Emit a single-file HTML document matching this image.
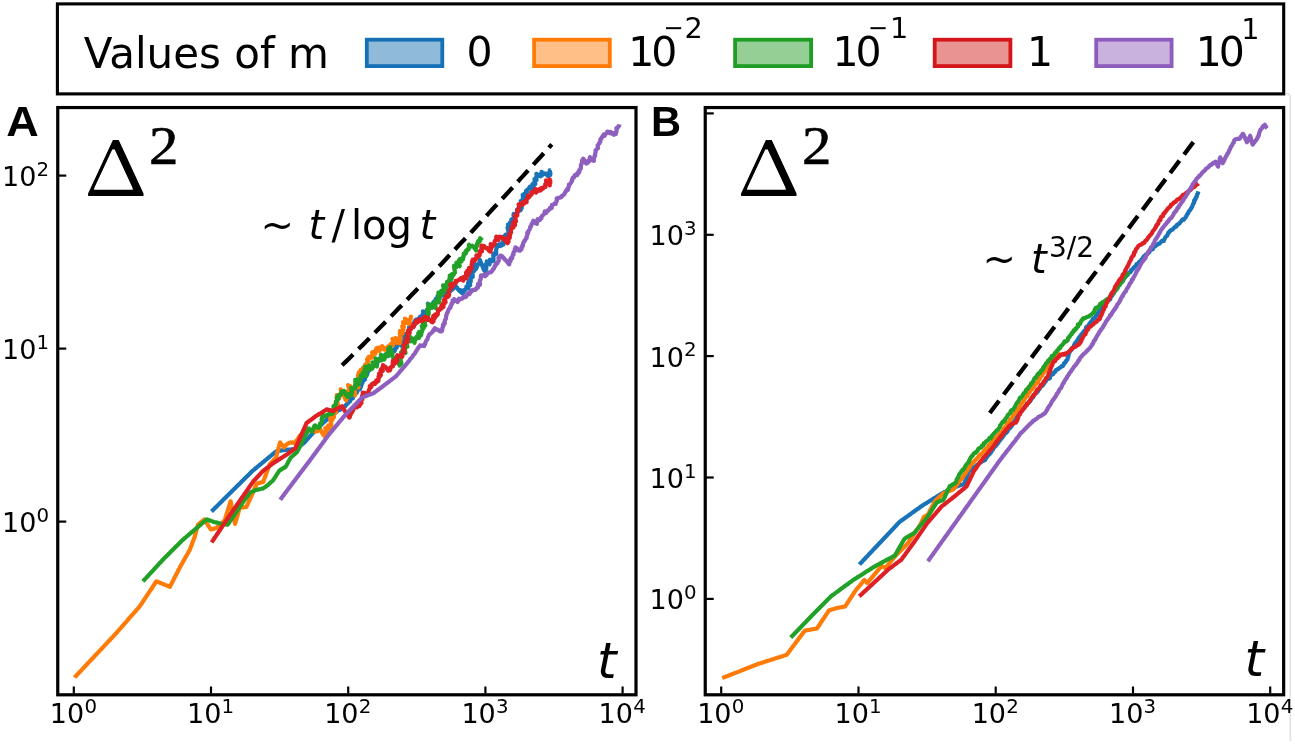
<!DOCTYPE html>
<html lang="en"><head><meta charset="utf-8"><title>Delta squared vs t</title>
<style>html,body{margin:0;padding:0;background:#fff;}svg{display:block;}text{font-family:"DejaVu Sans","Liberation Sans",sans-serif;fill:#000;}.it{font-style:italic;}.lab{font-family:"Liberation Sans","DejaVu Sans",sans-serif;font-weight:bold;}.ser{font-family:"Liberation Serif","DejaVu Serif",serif;}</style></head><body>
<svg width="1295" height="744" viewBox="0 0 1295 744">
<rect x="0" y="0" width="1295" height="744" fill="#fff"/>
<path d="M1286,93.3 Q1290.2,93.3 1290.2,98 L1290.2,741" fill="none" stroke="#dcdcdc" stroke-width="1.3"/>
<rect x="57.4" y="3.9" width="1226.3" height="90.0" fill="none" stroke="#000" stroke-width="3.1"/>
<text x="83.7" y="67.6" font-size="42">Values of m</text>
<rect x="366.8" y="39.7" width="75.5" height="26.4" fill="#1f77b4" fill-opacity="0.5" stroke="#1570b6" stroke-width="3.8"/>
<rect x="534.1" y="39.7" width="75.7" height="26.4" fill="#ff7f0e" fill-opacity="0.5" stroke="#ff7a06" stroke-width="3.8"/>
<rect x="735.1" y="39.7" width="76.0" height="26.4" fill="#2ca02c" fill-opacity="0.5" stroke="#1e9e25" stroke-width="3.8"/>
<rect x="934.7" y="39.7" width="75.7" height="26.4" fill="#d62728" fill-opacity="0.5" stroke="#d4161a" stroke-width="3.8"/>
<rect x="1096.2" y="39.7" width="75.4" height="26.4" fill="#9467bd" fill-opacity="0.5" stroke="#8d5cbc" stroke-width="3.8"/>
<text x="466.4" y="66.3" font-size="41" letter-spacing="0">0</text>
<text x="628.2" y="66.3" font-size="41" letter-spacing="-3.1">10</text>
<text x="663.3" y="36" font-size="24.3">−</text>
<text x="684.5" y="37.6" font-size="28.7">2</text>
<text x="832.6" y="66.3" font-size="41" letter-spacing="-3.1">10</text>
<text x="867.7" y="36" font-size="24.3">−</text>
<text x="889.9" y="37.6" font-size="28.7">1</text>
<text x="1027.0" y="66.3" font-size="41" letter-spacing="0">1</text>
<text x="1195.8" y="66.3" font-size="41" letter-spacing="-3.1">10</text>
<text x="1241.2" y="38.8" font-size="28.7">1</text>
<line x1="73.8" y1="693.5" x2="73.8" y2="686.5" stroke="#000" stroke-width="2.2"/>
<text x="49.8" y="723.0" font-size="27">10</text><text x="84.4" y="712.7" font-size="19.8">0</text>
<line x1="211.0" y1="693.5" x2="211.0" y2="686.5" stroke="#000" stroke-width="2.2"/>
<text x="187.0" y="723.0" font-size="27">10</text><text x="221.6" y="712.7" font-size="19.8">1</text>
<line x1="348.2" y1="693.5" x2="348.2" y2="686.5" stroke="#000" stroke-width="2.2"/>
<text x="324.2" y="723.0" font-size="27">10</text><text x="358.8" y="712.7" font-size="19.8">2</text>
<line x1="485.4" y1="693.5" x2="485.4" y2="686.5" stroke="#000" stroke-width="2.2"/>
<text x="461.4" y="723.0" font-size="27">10</text><text x="496.0" y="712.7" font-size="19.8">3</text>
<line x1="622.6" y1="693.5" x2="622.6" y2="686.5" stroke="#000" stroke-width="2.2"/>
<text x="598.6" y="723.0" font-size="27">10</text><text x="633.2" y="712.7" font-size="19.8">4</text>
<line x1="57.75" y1="175.6" x2="66.25" y2="175.6" stroke="#000" stroke-width="2.2"/>
<text x="2.0" y="186.1" font-size="27">10</text><text x="36.4" y="175.7" font-size="19.8">2</text>
<line x1="57.75" y1="348.6" x2="66.25" y2="348.6" stroke="#000" stroke-width="2.2"/>
<text x="2.0" y="359.1" font-size="27">10</text><text x="36.4" y="348.7" font-size="19.8">1</text>
<line x1="57.75" y1="521.6" x2="66.25" y2="521.6" stroke="#000" stroke-width="2.2"/>
<text x="2.0" y="532.1" font-size="27">10</text><text x="36.4" y="521.7" font-size="19.8">0</text>
<line x1="721.2" y1="693.5" x2="721.2" y2="686.5" stroke="#000" stroke-width="2.2"/>
<text x="697.2" y="723.0" font-size="27">10</text><text x="731.8" y="712.7" font-size="19.8">0</text>
<line x1="858.5" y1="693.5" x2="858.5" y2="686.5" stroke="#000" stroke-width="2.2"/>
<text x="834.5" y="723.0" font-size="27">10</text><text x="869.1" y="712.7" font-size="19.8">1</text>
<line x1="995.7" y1="693.5" x2="995.7" y2="686.5" stroke="#000" stroke-width="2.2"/>
<text x="971.7" y="723.0" font-size="27">10</text><text x="1006.3" y="712.7" font-size="19.8">2</text>
<line x1="1133.0" y1="693.5" x2="1133.0" y2="686.5" stroke="#000" stroke-width="2.2"/>
<text x="1109.0" y="723.0" font-size="27">10</text><text x="1143.6" y="712.7" font-size="19.8">3</text>
<line x1="1270.2" y1="693.5" x2="1270.2" y2="686.5" stroke="#000" stroke-width="2.2"/>
<text x="1246.2" y="723.0" font-size="27">10</text><text x="1280.8" y="712.7" font-size="19.8">4</text>
<line x1="705.25" y1="234.8" x2="713.75" y2="234.8" stroke="#000" stroke-width="2.2"/>
<text x="649.5" y="245.3" font-size="27">10</text><text x="683.9" y="234.9" font-size="19.8">3</text>
<line x1="705.25" y1="356.1" x2="713.75" y2="356.1" stroke="#000" stroke-width="2.2"/>
<text x="649.5" y="366.6" font-size="27">10</text><text x="683.9" y="356.2" font-size="19.8">2</text>
<line x1="705.25" y1="477.5" x2="713.75" y2="477.5" stroke="#000" stroke-width="2.2"/>
<text x="649.5" y="488.0" font-size="27">10</text><text x="683.9" y="477.6" font-size="19.8">1</text>
<line x1="705.25" y1="598.9" x2="713.75" y2="598.9" stroke="#000" stroke-width="2.2"/>
<text x="649.5" y="609.4" font-size="27">10</text><text x="683.9" y="599.0" font-size="19.8">0</text>
<line x1="705.25" y1="113.4" x2="713.75" y2="113.4" stroke="#000" stroke-width="2.2"/>
<path d="M211.5,511.5 L212.1,510.9 L212.8,510.2 L213.4,509.6 L214.1,509.0 L214.7,508.3 L215.3,507.7 L216.0,507.1 L216.6,506.4 L217.3,505.8 L217.9,505.2 L218.5,504.5 L219.2,503.9 L219.8,503.3 L220.4,502.6 L221.1,502.0 L221.7,501.4 L222.4,500.7 L223.0,500.1 L223.6,499.5 L224.3,498.8 L224.9,498.2 L225.6,497.6 L226.2,496.9 L226.8,496.3 L227.5,495.7 L228.1,495.0 L228.8,494.4 L229.4,493.8 L230.0,493.1 L230.7,492.5 L231.3,491.9 L231.9,491.2 L232.6,490.6 L233.2,490.0 L233.9,489.4 L234.5,488.7 L235.1,488.1 L235.8,487.5 L236.4,486.8 L237.1,486.2 L237.7,485.6 L238.3,484.9 L239.0,484.3 L239.6,483.7 L240.3,483.0 L240.9,482.4 L241.5,481.8 L242.2,481.1 L242.8,480.5 L243.5,479.9 L244.1,479.2 L244.7,478.6 L245.4,478.0 L246.0,477.3 L246.6,476.7 L247.3,476.1 L247.9,475.4 L248.6,474.8 L249.2,474.2 L249.8,473.5 L250.5,472.9 L251.1,472.3 L251.8,471.6 L252.4,471.0 L253.1,470.4 L253.8,469.9 L254.5,469.3 L255.2,468.7 L255.9,468.1 L256.5,467.6 L257.2,467.0 L257.9,466.4 L258.6,465.9 L259.3,465.3 L260.0,464.7 L260.7,464.1 L261.4,463.6 L262.1,463.0 L262.8,462.4 L263.5,461.9 L264.2,461.3 L264.8,460.7 L265.5,460.1 L266.2,459.6 L266.9,459.0 L267.6,458.4 L268.3,457.9 L269.0,457.3 L269.7,456.7 L270.4,456.1 L271.1,455.6 L271.8,455.0 L272.5,454.4 L273.1,453.9 L273.8,453.3 L274.5,452.7 L275.2,452.1 L275.9,451.6 L276.6,451.0 L277.5,450.9 L278.5,450.8 L279.4,450.7 L280.3,450.6 L281.3,450.4 L282.2,450.3 L283.1,450.2 L284.1,450.1 L285.0,450.0 L285.9,449.9 L286.8,449.8 L287.7,449.7 L288.6,449.6 L289.5,449.5 L290.5,449.5 L291.4,449.4 L292.3,449.3 L293.2,449.2 L294.1,449.1 L295.0,449.0 L295.8,448.5 L296.5,448.0 L297.2,447.5 L298.0,447.0 L298.8,446.5 L299.5,446.0 L300.2,445.5 L301.0,445.0 L301.8,444.5 L302.5,444.0 L303.2,443.5 L304.0,443.0 L304.6,442.3 L305.2,441.6 L305.8,440.9 L306.5,440.2 L307.1,439.5 L307.7,438.8 L308.3,438.2 L308.9,437.5 L309.5,436.8 L310.2,436.1 L310.8,435.4 L311.4,434.7 L312.0,434.0 L312.6,433.4 L313.2,432.8 L313.9,432.1 L314.5,431.5 L315.1,430.9 L315.8,430.2 L316.4,429.6 L317.0,429.0 L317.6,428.4 L318.2,427.8 L318.9,427.1 L319.5,426.5 L320.1,425.9 L320.8,425.2 L321.4,424.6 L322.0,424.0 L322.6,423.4 L323.3,422.8 L323.9,422.2 L324.6,421.6 L325.2,421.1 L325.9,420.5 L326.5,419.9 L327.2,419.3 L327.8,418.7 L328.5,418.1 L329.1,417.5 L329.8,416.9 L330.4,416.4 L331.1,415.8 L331.7,415.3 L332.4,414.6 L333.0,413.9 L333.8,413.5 L334.5,413.0 L335.3,412.5 L336.1,412.0 L336.9,411.7 L337.5,410.6 L338.3,410.3 L339.1,409.9 L340.0,409.9 L340.5,408.6 L341.4,408.3 L342.1,407.6 L342.9,407.2 L343.8,407.1 L344.6,406.7 L345.3,406.4 L345.6,405.1 L346.3,404.6 L347.0,404.3 L347.6,403.7 L347.9,402.5 L348.7,402.4 L349.0,401.0 L350.0,401.4 L350.4,400.2 L350.8,399.3 L351.5,398.8 L352.2,398.4 L352.9,398.3 L353.1,396.7 L353.5,395.7 L354.3,395.5 L354.5,394.1 L354.8,392.8 L355.9,393.4 L356.2,392.2 L357.1,392.3 L357.2,390.5 L357.2,388.4 L358.4,389.4 L359.0,389.0 L359.9,389.3 L360.3,388.1 L360.7,387.1 L361.1,386.5 L361.2,385.0 L361.7,384.4 L361.6,382.5 L362.4,382.9 L362.5,381.3 L362.9,380.6 L363.6,380.7 L364.1,380.2 L363.9,378.0 L365.1,379.2 L364.8,376.8 L365.5,376.7 L365.9,376.2 L366.1,374.8 L366.4,373.9 L367.2,374.3 L367.4,373.0 L367.8,371.9 L367.6,369.2 L368.4,369.1 L369.7,370.2 L370.1,369.0 L370.3,367.2 L370.9,366.6 L371.6,366.2 L372.6,366.6 L373.2,365.8 L374.0,365.7 L374.0,363.4 L375.1,364.2 L375.3,362.3 L375.9,361.6 L377.4,363.2 L377.6,361.3 L378.1,360.2 L378.8,359.5 L379.4,358.7 L380.9,360.2 L381.7,359.9 L382.2,358.7 L382.6,357.3 L383.7,357.6 L383.9,355.9 L384.8,355.7 L385.5,355.2 L386.1,354.2 L387.6,355.7 L388.6,355.8 L389.2,355.0 L388.3,350.1 L390.7,353.8 L391.2,352.7 L391.3,350.6 L392.2,350.3 L393.6,351.5 L394.4,351.2 L394.9,350.2 L395.1,348.5 L395.6,347.4 L396.6,347.8 L396.9,346.0 L397.0,344.0 L397.7,343.5 L398.6,343.5 L399.5,343.6 L401.2,345.6 L400.0,340.5 L401.2,341.4 L401.6,340.3 L402.4,340.0 L403.5,340.8 L404.1,340.2 L404.0,337.6 L404.2,336.0 L404.2,334.0 L405.3,334.8 L406.6,336.1 L406.4,333.8 L407.3,334.0 L407.9,333.5 L408.2,332.4 L409.0,332.5 L409.0,330.3 L409.0,328.3 L409.2,326.9 L410.7,328.8 L410.7,326.9 L411.1,326.0 L412.2,326.8 L412.0,324.1 L413.8,326.6 L414.1,325.1 L414.1,322.7 L414.5,321.5 L416.0,323.1 L415.6,319.8 L416.4,319.4 L417.4,319.7 L418.2,319.5 L418.8,318.7 L419.6,318.6 L419.9,317.0 L420.6,316.5 L422.0,317.8 L422.4,316.7 L422.5,314.5 L424.1,316.4 L423.0,311.3 L424.4,312.6 L425.5,313.1 L426.4,313.1 L426.6,311.3 L426.8,309.8 L427.9,310.2 L428.2,308.6 L429.0,308.7 L427.9,303.6 L429.9,306.4 L430.2,304.8 L431.6,306.3 L432.3,305.8 L432.9,305.1 L432.9,302.8 L433.8,302.9 L434.1,301.3 L434.9,301.2 L435.5,300.4 L435.8,298.8 L438.0,301.9 L438.4,300.5 L437.6,296.0 L439.6,298.7 L439.3,295.8 L440.5,296.3 L441.2,295.6 L441.9,295.1 L443.1,295.6 L443.6,294.6 L443.7,292.5 L445.1,293.6 L446.2,293.8 L447.7,295.4 L447.5,292.3 L447.6,290.2 L448.7,290.5 L450.1,291.5 L450.1,289.2 L450.8,288.5 L452.2,289.7 L452.8,288.7 L453.7,288.4 L454.0,286.8 L454.6,285.8 L455.5,285.8 L456.3,286.9 L456.9,287.4 L457.9,289.1 L458.7,290.1 L459.4,290.9 L460.0,291.4 L459.9,290.2 L460.3,290.1 L461.9,293.1 L462.4,293.2 L463.2,292.6 L463.3,290.4 L464.4,290.8 L465.1,289.8 L465.7,288.9 L466.6,288.6 L466.4,286.6 L467.4,287.6 L468.4,288.6 L467.8,285.5 L468.4,285.3 L468.1,282.9 L469.1,284.1 L470.2,285.3 L469.0,280.6 L469.5,280.3 L470.7,281.8 L470.7,280.0 L470.8,278.6 L469.9,274.7 L471.0,275.7 L472.0,276.7 L472.7,276.9 L472.7,275.1 L472.3,272.4 L472.5,271.0 L472.1,268.5 L472.7,268.3 L474.4,270.7 L474.5,268.9 L474.3,266.3 L476.1,268.7 L475.2,264.6 L477.0,267.1 L476.9,264.9 L477.7,264.8 L478.4,264.6 L478.7,263.4 L479.7,263.9 L479.7,261.7 L479.9,260.2 L480.0,260.4 L479.9,260.0 L480.5,261.5 L481.8,264.7 L482.3,265.8 L483.0,267.4 L484.1,270.1 L483.7,268.6 L483.8,268.8 L483.3,267.0 L484.1,268.8 L485.9,273.1 L485.8,270.8 L485.8,268.7 L486.4,268.3 L485.7,264.6 L486.5,264.6 L486.8,263.3 L486.8,261.3 L488.7,264.2 L489.5,264.4 L489.5,262.3 L490.2,262.1 L490.0,259.6 L491.1,260.6 L491.9,260.6 L492.9,261.1 L493.5,260.7 L493.5,258.6 L493.4,256.6 L493.2,254.7 L493.6,253.9 L494.6,254.8 L495.0,254.2 L495.1,252.7 L496.2,254.0 L496.2,252.2 L496.1,250.4 L496.3,249.1 L496.7,248.5 L496.5,246.4 L496.8,245.2 L497.8,246.2 L498.1,244.7 L498.9,244.4 L500.4,246.0 L500.5,244.0 L501.9,245.2 L502.0,243.2 L503.4,244.5 L503.7,242.9 L503.2,239.1 L504.8,241.7 L504.7,239.7 L504.0,236.2 L505.3,237.7 L505.8,237.4 L505.5,234.7 L506.0,234.5 L507.1,235.3 L508.0,236.0 L508.3,235.2 L508.7,234.5 L509.0,233.5 L507.5,227.8 L508.4,228.4 L509.2,229.1 L508.0,224.6 L509.7,227.7 L510.3,227.8 L509.7,224.8 L509.9,224.1 L509.9,222.5 L510.5,222.7 L511.0,222.1 L511.5,221.5 L511.4,219.4 L512.5,220.2 L512.7,218.8 L513.8,219.7 L514.0,218.4 L513.5,215.1 L513.7,213.9 L515.0,215.1 L515.3,214.0 L516.2,214.5 L517.1,214.5 L517.3,212.8 L516.9,209.6 L517.6,209.1 L519.1,210.8 L519.1,208.3 L520.7,210.2 L520.8,208.4 L521.7,208.2 L521.6,205.8 L522.0,205.6 L520.7,201.0 L522.0,203.0 L522.8,203.8 L522.3,201.2 L522.3,200.1 L522.8,200.2 L523.1,199.7 L522.8,197.7 L523.6,198.6 L522.7,194.9 L524.5,197.4 L524.0,194.0 L524.7,193.6 L526.4,195.8 L526.0,192.6 L526.1,190.6 L527.4,191.9 L527.5,190.3 L527.8,189.2 L528.5,189.0 L529.0,188.4 L529.4,187.4 L529.9,186.7 L531.9,189.6 L531.6,186.7 L532.9,187.8 L532.4,184.3 L533.8,185.8 L533.6,183.2 L534.4,183.3 L535.3,184.1 L535.1,182.0 L534.5,179.0 L535.3,179.6 L535.9,179.6 L536.6,180.0 L536.1,177.2 L536.5,177.0 L537.0,176.8 L536.4,173.8 L538.1,175.4 L538.8,174.8 L540.4,176.3 L541.3,175.9 L542.0,175.4 L541.6,171.9 L543.4,174.1 L544.2,173.8 L544.8,173.5 L545.7,174.3 L546.2,173.7 L547.6,175.9 L548.4,176.1 L548.9,175.4 L548.7,173.1 L550.2,175.0 L550.4,173.7 L549.8,170.3 L550.6,170.4" fill="none" stroke="#1873b8" stroke-width="4.2" stroke-linejoin="round" stroke-linecap="butt"/>
<path d="M74.5,677.5 L75.1,676.8 L75.7,676.2 L76.3,675.5 L77.0,674.9 L77.6,674.2 L78.2,673.6 L78.8,672.9 L79.4,672.3 L80.0,671.6 L80.7,671.0 L81.3,670.3 L81.9,669.7 L82.5,669.0 L83.1,668.4 L83.7,667.7 L84.3,667.1 L85.0,666.4 L85.6,665.7 L86.2,665.1 L86.8,664.4 L87.4,663.8 L88.0,663.1 L88.6,662.5 L89.3,661.8 L89.9,661.2 L90.5,660.5 L91.1,659.9 L91.7,659.2 L92.3,658.6 L93.0,657.9 L93.6,657.3 L94.2,656.6 L94.8,656.0 L95.4,655.3 L96.0,654.6 L96.6,654.0 L97.3,653.3 L97.9,652.7 L98.5,652.0 L99.1,651.4 L99.7,650.7 L100.3,650.1 L101.0,649.4 L101.6,648.8 L102.2,648.1 L102.8,647.5 L103.4,646.8 L104.0,646.2 L104.6,645.5 L105.3,644.8 L105.9,644.2 L106.5,643.5 L107.1,642.9 L107.7,642.2 L108.3,641.6 L108.9,640.9 L109.6,640.3 L110.2,639.6 L110.8,639.0 L111.4,638.3 L112.0,637.7 L112.6,637.0 L113.3,636.4 L113.9,635.7 L114.5,635.1 L115.1,634.4 L115.7,633.7 L116.3,633.0 L116.9,632.4 L117.5,631.7 L118.1,631.0 L118.7,630.3 L119.3,629.6 L119.9,629.0 L120.5,628.3 L121.1,627.6 L121.7,626.9 L122.3,626.2 L122.9,625.6 L123.5,624.9 L124.1,624.2 L124.7,623.5 L125.3,622.8 L125.9,622.2 L126.5,621.5 L127.1,620.8 L127.6,620.1 L128.2,619.4 L128.8,618.7 L129.4,618.1 L130.0,617.4 L130.6,616.7 L131.2,616.0 L131.8,615.3 L132.4,614.7 L133.0,614.0 L133.6,613.3 L134.2,612.6 L134.8,611.9 L135.4,611.3 L136.0,610.6 L136.6,609.9 L137.2,609.2 L137.8,608.5 L138.4,607.9 L139.0,607.2 L139.6,606.5 L140.1,605.8 L140.6,605.0 L141.1,604.3 L141.6,603.5 L142.1,602.8 L142.6,602.1 L143.1,601.3 L143.6,600.6 L144.0,599.8 L144.5,599.1 L145.0,598.3 L145.5,597.6 L146.0,596.9 L146.5,596.1 L147.0,595.4 L147.5,594.6 L148.0,593.9 L148.5,593.2 L149.0,592.4 L149.5,591.7 L150.0,590.9 L150.5,590.2 L151.0,589.5 L151.5,588.7 L152.0,588.0 L152.4,587.2 L152.9,586.5 L153.4,585.7 L153.9,585.0 L154.4,584.3 L154.9,583.5 L155.4,582.8 L155.9,582.0 L156.4,581.3 L157.2,581.6 L158.1,582.0 L158.9,582.3 L159.8,582.7 L160.6,583.0 L161.5,583.4 L162.3,583.7 L163.2,584.0 L164.0,584.4 L164.8,584.7 L165.7,585.1 L166.5,585.4 L167.4,585.8 L168.2,586.1 L169.1,586.5 L169.9,586.8 L170.3,586.0 L170.7,585.2 L171.1,584.4 L171.5,583.6 L172.0,582.8 L172.4,582.0 L172.8,581.2 L173.2,580.4 L173.6,579.6 L174.0,578.8 L174.4,578.0 L174.8,577.2 L175.2,576.4 L175.7,575.6 L176.1,574.8 L176.5,574.0 L176.9,573.2 L177.3,572.4 L177.7,571.6 L178.1,570.8 L178.5,570.0 L179.0,569.2 L179.4,568.4 L179.8,567.6 L180.2,566.8 L180.6,566.0 L181.1,565.2 L181.5,564.4 L182.0,563.6 L182.4,562.8 L182.9,562.0 L183.3,561.2 L183.8,560.4 L184.2,559.6 L184.7,558.8 L185.1,558.0 L185.6,557.2 L186.1,556.4 L186.5,555.6 L187.0,554.8 L187.4,554.0 L187.9,553.2 L188.3,552.4 L188.8,551.6 L189.2,550.8 L189.7,550.0 L190.0,549.2 L190.3,548.4 L190.6,547.5 L190.9,546.7 L191.3,545.9 L191.6,545.0 L191.9,544.2 L192.2,543.4 L192.5,542.6 L192.8,541.8 L193.1,540.9 L193.4,540.1 L193.8,539.3 L194.1,538.4 L194.4,537.6 L194.7,536.8 L194.9,535.9 L195.2,535.1 L195.4,534.2 L195.6,533.3 L195.9,532.5 L196.1,531.6 L196.3,530.8 L196.6,529.9 L196.8,529.0 L197.1,528.2 L197.3,527.3 L197.5,526.4 L197.8,525.6 L198.0,524.7 L198.7,524.1 L199.4,523.5 L200.1,522.9 L200.8,522.3 L201.6,521.8 L202.3,521.2 L203.0,520.6 L203.7,520.0 L204.4,519.4 L204.9,520.2 L205.4,521.0 L205.9,521.7 L206.4,522.5 L206.9,523.3 L207.4,524.1 L207.8,524.8 L208.3,525.6 L208.8,526.4 L209.3,527.2 L209.8,527.9 L210.3,528.7 L210.8,529.5 L211.6,529.3 L212.4,529.1 L213.2,528.9 L214.1,528.6 L214.9,528.4 L215.7,528.2 L216.5,528.0 L217.2,527.4 L217.8,526.8 L218.5,526.1 L219.2,525.5 L219.8,524.9 L220.5,524.3 L221.2,523.7 L221.8,523.1 L222.5,522.5 L223.2,521.8 L223.8,521.2 L224.5,520.6 L224.8,519.7 L225.1,518.8 L225.3,518.0 L225.6,517.1 L225.9,516.2 L226.2,515.3 L226.4,514.5 L226.7,513.6 L227.0,512.7 L227.3,511.8 L227.6,511.0 L227.8,510.1 L228.1,509.2 L228.4,508.3 L228.7,507.4 L228.9,506.6 L229.2,505.7 L229.5,504.8 L229.8,503.9 L230.0,503.1 L230.3,502.2 L230.6,501.3 L230.8,502.2 L230.9,503.0 L231.1,503.9 L231.3,504.8 L231.4,505.6 L231.6,506.5 L231.8,507.4 L232.0,508.3 L232.1,509.1 L232.3,510.0 L232.5,510.9 L232.6,511.7 L232.8,512.6 L233.0,513.5 L233.1,514.3 L233.3,515.2 L233.5,516.1 L233.6,516.9 L233.8,517.8 L234.0,518.7 L234.2,519.6 L234.3,520.4 L234.5,521.3 L234.7,522.2 L234.8,523.0 L235.0,523.9 L235.3,523.0 L235.5,522.2 L235.8,521.3 L236.0,520.5 L236.3,519.6 L236.5,518.8 L236.8,517.9 L237.0,517.1 L237.3,516.2 L237.5,515.4 L237.8,514.5 L238.0,513.7 L238.3,512.8 L238.5,512.0 L238.8,511.1 L239.0,510.3 L239.3,509.4 L239.5,508.6 L239.8,507.7 L240.7,507.6 L241.7,507.5 L242.6,507.4 L243.5,507.3 L244.4,507.2 L245.4,507.1 L246.3,507.0 L246.7,506.2 L247.1,505.4 L247.4,504.6 L247.8,503.7 L248.2,502.9 L248.6,502.1 L249.0,501.3 L249.3,500.5 L249.7,499.7 L250.1,498.9 L250.5,498.1 L250.9,497.2 L251.2,496.4 L251.6,495.6 L252.0,494.8 L252.3,494.0 L252.7,493.2 L253.0,492.4 L253.4,491.6 L253.7,490.8 L254.1,490.0 L254.4,489.1 L254.7,488.3 L255.1,487.5 L255.4,486.7 L255.8,485.9 L256.1,485.1 L256.5,484.3 L256.8,483.5 L257.7,483.3 L258.6,483.1 L259.5,482.9 L260.5,482.6 L261.4,482.4 L262.3,482.2 L263.2,482.0 L263.5,481.2 L263.8,480.3 L264.1,479.5 L264.4,478.6 L264.7,477.8 L265.1,476.9 L265.4,476.1 L265.7,475.2 L266.0,474.4 L266.3,473.5 L266.6,472.7 L266.9,471.8 L267.2,471.0 L267.5,470.1 L267.8,469.3 L268.2,468.4 L268.5,467.6 L268.8,466.7 L269.1,465.9 L269.4,465.0 L269.7,464.2 L270.3,463.6 L271.0,462.9 L271.6,462.2 L272.2,461.6 L272.9,460.9 L273.5,460.3 L274.1,459.6 L274.7,459.0 L275.4,458.3 L276.0,457.7 L276.2,456.8 L276.4,456.0 L276.7,455.1 L276.9,454.3 L277.1,453.4 L277.3,452.6 L277.6,451.8 L277.8,450.9 L278.0,450.0 L278.2,449.2 L278.4,448.3 L278.7,447.5 L278.9,446.6 L279.1,445.8 L279.3,444.9 L279.6,444.1 L279.8,443.2 L280.0,442.4 L280.6,443.1 L281.1,443.8 L281.7,444.5 L282.3,445.2 L282.9,445.9 L283.4,446.6 L284.0,447.3 L284.6,446.6 L285.2,446.0 L285.8,445.3 L286.4,444.6 L287.0,444.1 L287.9,443.6 L288.7,443.1 L289.6,442.7 L290.5,442.4 L291.4,442.7 L292.1,442.7 L292.7,442.4 L293.7,443.0 L294.6,443.5 L295.3,443.2 L295.7,442.0 L296.2,441.1 L296.6,440.2 L297.3,439.8 L298.1,439.6 L298.3,437.9 L298.9,437.4 L299.3,436.3 L299.8,435.6 L300.6,435.2 L301.3,435.0 L301.7,433.8 L302.4,433.3 L303.3,433.6 L303.9,432.8 L304.5,432.2 L305.1,431.5 L305.5,430.5 L306.3,430.2 L306.9,429.7 L307.4,428.8 L308.5,429.7 L309.1,429.5 L310.1,430.4 L310.7,430.2 L311.6,430.9 L312.0,430.3 L312.8,430.5 L313.5,429.8 L315.1,431.6 L316.0,431.4 L316.8,431.0 L317.8,431.2 L318.2,429.8 L319.4,430.3 L320.1,429.8 L320.0,429.0 L321.1,431.0 L321.5,431.4 L323.0,434.5 L322.8,433.3 L323.2,433.8 L324.5,436.3 L324.7,436.3 L324.6,435.3 L325.4,435.9 L325.3,434.2 L326.7,436.0 L325.8,432.4 L326.0,431.4 L325.3,428.0 L326.3,429.2 L327.9,431.8 L327.5,429.2 L327.2,427.0 L328.0,427.4 L328.0,426.0 L328.3,425.4 L330.1,427.8 L330.6,427.1 L330.9,425.8 L331.4,425.0 L330.5,420.8 L330.2,417.9 L331.9,420.3 L332.5,419.6 L332.8,418.4 L333.1,417.3 L333.8,417.5 L334.0,416.6 L334.0,415.3 L334.2,414.6 L334.1,412.8 L334.1,411.5 L335.2,413.0 L334.7,410.3 L336.0,412.2 L335.6,410.0 L335.4,408.0 L336.1,408.4 L335.4,405.4 L335.6,404.5 L335.7,403.4 L336.1,403.0 L336.7,403.2 L337.8,404.6 L337.4,401.9 L336.7,398.3 L337.0,397.3 L336.8,395.0 L338.5,397.8 L339.3,397.9 L339.4,396.5 L339.7,395.6 L340.2,395.0 L340.5,394.1 L341.0,393.6 L341.2,392.2 L340.7,389.3 L342.2,392.9 L343.1,394.9 L341.7,391.0 L342.7,393.2 L342.6,392.7 L344.0,396.1 L344.1,396.1 L345.6,399.7 L346.1,400.5 L345.4,398.6 L345.6,398.8 L345.9,397.7 L347.0,398.8 L346.4,395.8 L347.5,396.9 L346.7,393.3 L348.5,396.2 L348.8,395.2 L348.0,391.4 L348.3,390.7 L349.3,391.5 L349.8,391.3 L348.1,385.1 L350.1,388.6 L351.6,390.9 L350.9,387.3 L350.3,386.1 L352.2,391.0 L352.1,391.0 L352.3,391.6 L352.8,393.2 L351.9,391.0 L352.3,392.3 L352.2,392.4 L352.4,393.1 L353.2,393.7 L353.1,391.8 L355.0,395.4 L354.9,393.5 L355.2,393.0 L353.8,387.8 L354.7,388.6 L355.1,388.2 L355.6,387.9 L356.0,387.7 L355.5,384.8 L355.5,383.3 L356.9,385.6 L358.3,387.6 L358.6,387.0 L357.3,382.1 L356.9,379.5 L357.6,380.0 L358.2,379.9 L359.3,381.4 L358.4,377.5 L358.0,375.2 L359.4,377.1 L358.6,373.7 L358.9,372.3 L360.4,373.9 L360.6,372.5 L360.5,370.1 L361.5,370.5 L362.1,369.8 L362.8,369.4 L362.9,367.9 L364.3,369.3 L364.3,367.3 L364.5,365.9 L366.1,368.0 L365.5,364.3 L366.9,366.0 L367.5,365.4 L367.2,363.1 L367.8,362.9 L367.0,359.3 L368.3,360.9 L368.0,358.4 L368.3,357.5 L369.4,358.7 L369.2,356.5 L370.0,357.0 L370.8,357.0 L371.8,357.5 L371.9,355.9 L372.8,356.2 L372.1,352.5 L372.7,351.9 L373.9,353.0 L375.3,353.8 L375.8,352.4 L375.9,350.1 L376.3,348.4 L377.2,347.9 L379.3,351.0 L378.9,347.6 L380.0,347.8 L381.3,349.0 L382.1,348.4 L382.1,346.0 L384.5,349.7 L384.4,348.0 L385.1,348.2 L386.2,349.6 L386.3,348.4 L387.6,350.3 L388.0,349.7 L387.9,347.4 L388.1,346.3 L389.5,347.7 L389.9,347.0 L390.2,345.8 L390.4,344.4 L390.9,343.9 L392.1,345.1 L392.9,345.2 L392.5,342.3 L393.2,342.0 L392.5,338.8 L393.5,339.7 L394.6,340.9 L395.2,341.1 L396.8,343.0 L395.5,338.0 L397.4,340.8 L398.2,341.1 L399.8,343.2 L398.6,338.3 L399.4,338.3 L400.6,339.5 L400.8,338.2 L399.8,333.9 L400.2,333.4 L399.9,331.2 L400.9,332.2 L401.7,332.7 L402.6,333.3 L402.4,331.3 L402.8,330.8 L403.2,330.3 L402.2,326.3 L403.3,327.3 L403.9,327.4 L403.4,324.7 L403.0,322.1 L403.9,322.8 L404.3,322.3 L405.6,323.0 L405.0,318.7 L406.6,320.0 L409.3,324.2 L409.8,323.4 L409.6,320.3 L410.0,319.1 L410.7,318.4 L410.9,316.7 L412.2,317.7" fill="none" stroke="#ff7b08" stroke-width="4.2" stroke-linejoin="round" stroke-linecap="butt"/>
<path d="M143.0,581.3 L143.6,580.6 L144.2,580.0 L144.8,579.3 L145.4,578.6 L146.1,578.0 L146.7,577.3 L147.3,576.7 L147.9,576.0 L148.5,575.3 L149.1,574.7 L149.7,574.0 L150.3,573.3 L151.0,572.7 L151.6,572.0 L152.2,571.3 L152.8,570.7 L153.4,570.0 L154.0,569.4 L154.6,568.7 L155.2,568.0 L155.9,567.4 L156.5,566.7 L157.1,566.0 L157.7,565.4 L158.3,564.7 L158.9,564.0 L159.5,563.4 L160.1,562.7 L160.8,562.1 L161.4,561.4 L162.0,560.7 L162.6,560.1 L163.2,559.4 L163.8,558.8 L164.5,558.1 L165.1,557.5 L165.8,556.8 L166.4,556.2 L167.1,555.5 L167.7,554.9 L168.4,554.2 L169.0,553.6 L169.7,552.9 L170.3,552.3 L171.0,551.6 L171.6,551.0 L172.3,550.3 L172.9,549.7 L173.5,549.1 L174.2,548.4 L174.8,547.8 L175.5,547.1 L176.1,546.5 L176.8,545.8 L177.4,545.2 L178.1,544.5 L178.7,543.9 L179.4,543.2 L180.0,542.6 L180.7,541.9 L181.3,541.3 L182.0,540.6 L182.6,540.0 L183.3,539.4 L184.0,538.8 L184.7,538.2 L185.4,537.6 L186.1,537.1 L186.7,536.5 L187.4,535.9 L188.1,535.3 L188.8,534.7 L189.5,534.1 L190.2,533.5 L190.9,532.9 L191.6,532.3 L192.3,531.8 L193.0,531.2 L193.7,530.6 L194.4,530.0 L195.0,529.4 L195.7,528.8 L196.4,528.2 L197.1,527.6 L197.8,527.1 L198.5,526.5 L199.2,525.9 L199.9,525.3 L200.6,524.7 L201.3,524.1 L202.0,523.5 L202.7,522.9 L203.3,522.3 L204.0,521.8 L204.7,521.2 L205.4,520.6 L206.1,520.0 L206.8,519.4 L207.6,519.7 L208.4,520.0 L209.2,520.3 L210.0,520.6 L210.8,520.8 L211.6,521.1 L212.4,521.4 L213.2,521.7 L214.0,522.0 L214.9,522.2 L215.8,522.4 L216.7,522.6 L217.6,522.8 L218.4,523.1 L219.3,523.3 L220.2,523.5 L221.1,523.7 L222.0,523.9 L222.9,524.0 L223.9,524.2 L224.8,524.3 L225.8,524.4 L226.8,524.6 L227.7,524.7 L228.2,523.9 L228.7,523.2 L229.3,522.4 L229.8,521.6 L230.3,520.9 L230.8,520.1 L231.3,519.4 L231.9,518.6 L232.4,517.8 L232.9,517.1 L233.4,516.3 L234.0,515.5 L234.5,514.8 L235.0,514.0 L235.5,513.2 L236.0,512.5 L236.5,511.8 L237.0,511.0 L237.5,510.2 L238.0,509.5 L238.5,508.8 L239.0,508.0 L239.5,507.2 L240.0,506.5 L240.5,505.8 L241.0,505.0 L241.5,504.2 L242.0,503.5 L242.5,502.8 L243.0,502.0 L243.6,501.3 L244.1,500.5 L244.7,499.8 L245.2,499.0 L245.8,498.3 L246.4,497.6 L246.9,496.8 L247.5,496.1 L248.1,495.4 L248.6,494.6 L249.2,493.9 L249.7,493.1 L250.3,492.4 L251.1,492.1 L251.9,491.7 L252.7,491.4 L253.6,491.0 L254.4,490.7 L255.2,490.3 L256.0,490.0 L256.9,489.8 L257.8,489.6 L258.7,489.4 L259.6,489.2 L260.5,489.0 L261.4,488.8 L262.3,488.6 L263.2,488.4 L263.9,487.9 L264.6,487.4 L265.3,486.9 L265.9,486.5 L266.6,486.0 L267.3,485.5 L268.0,485.0 L268.6,484.4 L269.2,483.8 L269.9,483.2 L270.5,482.6 L271.1,482.1 L271.8,481.5 L272.4,480.9 L273.0,480.3 L273.5,479.6 L274.0,478.8 L274.5,478.1 L275.0,477.3 L275.5,476.6 L276.0,475.8 L276.4,475.1 L276.9,474.3 L277.4,473.6 L277.9,472.8 L278.4,472.1 L278.9,471.3 L279.4,470.6 L280.2,470.1 L281.0,469.6 L281.8,469.1 L282.6,468.6 L283.4,468.1 L284.2,467.6 L285.0,467.1 L285.8,466.6 L286.2,465.8 L286.7,465.0 L287.1,464.2 L287.5,463.4 L288.0,462.6 L288.4,461.7 L288.9,460.9 L289.3,460.1 L289.7,459.3 L290.2,458.5 L290.6,457.7 L291.2,457.1 L291.9,456.6 L292.5,456.0 L293.2,455.4 L293.8,454.9 L294.4,454.3 L295.1,453.7 L295.7,453.1 L296.4,452.6 L297.0,452.0 L297.4,451.2 L297.9,450.4 L298.3,449.6 L298.8,448.8 L299.2,448.0 L299.7,447.2 L300.1,446.4 L300.6,445.6 L301.0,444.8 L301.4,444.0 L301.8,443.3 L302.1,442.4 L302.5,441.7 L302.8,440.9 L303.2,440.0 L303.6,439.3 L303.9,438.3 L304.3,437.7 L304.6,436.7 L305.0,435.9 L305.5,435.2 L305.9,434.5 L306.4,433.8 L306.9,433.0 L307.2,431.9 L307.6,430.9 L308.1,430.4 L308.6,429.6 L308.9,428.5 L309.7,429.6 L310.4,430.1 L310.9,430.4 L311.7,431.4 L312.1,431.6 L312.5,430.8 L312.9,430.4 L313.0,429.0 L313.5,428.7 L313.6,427.4 L314.2,427.3 L314.3,426.1 L314.7,425.5 L315.3,425.4 L316.2,426.2 L317.2,427.4 L318.0,427.8 L318.4,427.1 L319.1,427.5 L319.5,426.9 L319.6,425.5 L320.3,425.5 L320.1,423.5 L320.6,423.0 L321.2,422.9 L321.6,422.4 L321.9,421.6 L321.7,419.4 L321.8,417.9 L322.5,418.2 L322.5,416.5 L323.1,416.4 L323.2,414.9 L324.6,416.1 L325.6,415.9 L326.4,415.5 L327.1,414.9 L328.0,414.5 L328.8,414.0 L329.9,414.2 L330.8,413.9 L331.8,413.8 L331.9,412.3 L332.9,413.4 L332.9,411.5 L333.6,411.5 L334.0,410.8 L333.6,408.0 L333.5,406.1 L334.8,407.8 L334.8,405.9 L335.3,405.3 L335.5,404.3 L336.0,403.8 L335.9,401.7 L336.5,401.7 L336.8,400.7 L337.3,400.3 L336.8,397.3 L338.2,399.2 L338.6,398.5 L338.1,395.5 L338.7,395.3 L339.4,395.4 L340.0,395.5 L340.2,394.1 L341.1,394.7 L341.4,393.2 L341.7,391.5 L342.5,391.2 L344.0,392.6 L344.3,391.0 L345.3,393.3 L345.9,394.7 L346.2,395.1 L346.9,396.3 L346.8,395.7 L347.2,396.5 L347.3,396.5 L347.7,397.1 L347.6,396.7 L348.4,396.9 L348.5,395.6 L348.6,394.2 L349.7,395.4 L350.3,395.4 L350.3,393.7 L351.4,395.0 L351.7,394.1 L352.0,393.4 L351.5,390.3 L351.1,387.8 L352.4,389.6 L352.8,388.9 L353.6,388.9 L354.1,387.9 L355.1,388.4 L354.9,385.7 L355.9,386.0 L355.6,383.2 L355.2,379.9 L356.7,381.6 L358.6,384.4 L357.6,379.4 L359.5,382.2 L359.1,379.3 L359.6,378.6 L360.4,378.5 L361.0,378.1 L360.7,375.5 L361.7,376.1 L362.5,376.1 L363.3,376.1 L362.8,372.9 L364.5,375.3 L365.5,375.8 L366.4,376.0 L364.6,369.4 L365.5,369.8 L365.2,366.5 L367.3,369.3 L368.5,369.9 L368.4,367.1 L368.8,365.6 L370.7,367.9 L372.1,368.9 L372.2,366.6 L373.3,366.8 L372.4,362.4 L373.7,363.9 L374.9,365.0 L375.6,364.6 L377.0,366.3 L376.0,361.6 L375.5,358.3 L377.5,361.4 L377.6,359.7 L378.6,360.2 L379.5,360.4 L380.0,359.7 L381.0,360.3 L381.9,360.0 L380.8,354.7 L382.2,356.0 L384.5,359.2 L384.0,355.7 L385.5,356.9 L385.8,355.1 L386.3,353.9 L387.9,356.1 L388.3,355.1 L388.0,352.1 L389.1,352.7 L388.3,348.6 L388.9,348.1 L390.4,350.0 L390.6,348.3 L390.1,347.2 L391.1,350.2 L391.4,351.3 L392.3,353.7 L392.4,354.4 L391.8,353.2 L391.8,353.4 L392.2,354.7 L392.4,355.5 L393.7,359.1 L394.2,360.7 L394.7,361.2 L394.7,360.2 L394.9,359.5 L396.1,361.7 L396.1,360.7 L397.0,361.9 L396.5,359.6 L397.6,361.7 L399.6,365.6 L398.9,363.0 L398.6,360.7 L399.6,361.7 L401.1,364.2 L401.5,363.6 L400.6,359.9 L400.6,358.3 L401.0,357.8 L400.8,355.7 L401.5,356.2 L401.7,355.0 L401.1,352.2 L401.8,352.4 L402.3,352.3 L402.4,350.6 L402.6,349.2 L404.2,351.5 L405.5,352.9 L404.7,349.0 L404.7,347.4 L405.7,347.9 L405.7,346.1 L405.7,344.2 L407.4,346.7 L406.5,342.5 L406.8,341.6 L407.3,340.8 L407.6,339.6 L408.4,339.8 L409.4,340.5 L410.5,341.3 L410.6,339.6 L410.8,338.9 L410.5,337.1 L411.8,339.2 L412.0,338.6 L413.1,340.3 L414.5,342.8 L414.7,341.3 L415.0,339.9 L415.2,338.2 L416.2,338.6 L416.9,338.4 L416.9,336.2 L417.7,336.0 L419.2,337.7 L418.2,333.2 L419.0,333.7 L419.1,331.9 L421.1,335.3 L421.3,333.8 L421.6,332.7 L421.9,331.7 L422.2,330.6 L422.6,329.8 L421.8,325.9 L423.1,327.5 L423.9,327.7 L423.2,323.8 L424.7,326.0 L425.3,325.6 L424.3,321.3 L425.0,321.4 L425.4,321.1 L425.6,320.0 L426.4,320.5 L425.7,317.3 L426.4,317.7 L427.1,317.8 L427.7,317.9 L427.6,316.2 L427.6,314.7 L428.4,315.2 L427.1,310.3 L428.8,313.4 L428.6,311.3 L428.2,308.7 L428.8,308.8 L428.3,305.9 L428.2,304.3 L429.5,306.1 L430.2,305.6 L431.9,307.8 L431.9,305.3 L432.3,304.0 L433.2,304.0 L435.7,308.2 L435.4,305.6 L435.3,303.4 L435.4,301.7 L435.7,300.6 L436.7,301.3 L437.6,301.8 L438.6,302.4 L439.1,301.9 L439.0,299.8 L438.8,297.3 L438.9,295.8 L438.4,292.6 L439.5,293.4 L440.9,295.3 L441.1,293.8 L441.9,294.1 L441.3,290.7 L443.0,293.1 L443.3,292.0 L443.5,290.7 L444.2,290.4 L443.1,285.4 L444.3,286.5 L444.7,285.5 L446.8,289.0 L446.4,285.8 L446.5,284.0 L447.7,285.2 L447.1,281.7 L449.0,284.5 L448.5,281.0 L449.2,280.8 L449.3,278.8 L450.8,280.6 L449.7,275.6 L451.7,278.7 L451.6,276.3 L452.5,276.6 L452.1,274.0 L453.1,275.1 L453.5,274.5 L454.0,274.3 L454.1,273.2 L454.5,272.7 L455.0,272.6 L454.5,269.6 L454.1,267.0 L454.1,265.6 L455.5,267.8 L455.4,265.9 L456.4,267.1 L456.6,265.2 L456.5,262.6 L458.2,264.7 L459.7,266.3 L459.2,262.6 L459.1,260.2 L459.7,259.3 L461.4,261.4 L461.4,258.9 L462.0,258.2 L463.1,259.1 L463.2,257.6 L463.6,256.8 L463.6,254.9 L463.8,253.7 L464.7,254.2 L465.2,253.6 L465.9,253.5 L465.7,251.1 L466.5,251.3 L467.0,250.9 L467.2,249.6 L467.9,249.4 L468.6,249.5 L468.6,247.5 L468.8,246.3 L469.0,244.7 L470.5,246.6 L471.2,246.5 L471.9,246.3 L472.4,245.6 L474.0,247.3 L476.2,250.6 L475.9,247.5 L476.2,246.1 L477.1,246.1 L477.0,243.8 L477.8,243.8 L477.8,242.0 L478.2,241.1 L479.2,241.8 L479.8,241.3 L480.1,240.1 L480.1,238.2 L481.2,238.9 L481.4,237.5" fill="none" stroke="#22a128" stroke-width="4.2" stroke-linejoin="round" stroke-linecap="butt"/>
<path d="M211.6,542.4 L212.1,541.7 L212.6,540.9 L213.1,540.2 L213.6,539.4 L214.1,538.7 L214.6,538.0 L215.1,537.2 L215.6,536.5 L216.1,535.7 L216.6,535.0 L217.1,534.2 L217.6,533.5 L218.1,532.8 L218.6,532.0 L219.1,531.3 L219.6,530.5 L220.1,529.8 L220.6,529.1 L221.1,528.3 L221.6,527.6 L222.0,526.8 L222.5,526.1 L223.0,525.3 L223.5,524.6 L224.0,523.9 L224.5,523.1 L225.0,522.4 L225.5,521.6 L226.0,520.9 L226.5,520.2 L227.0,519.4 L227.5,518.7 L228.0,517.9 L228.5,517.2 L229.0,516.4 L229.5,515.7 L230.0,515.0 L230.5,514.2 L231.0,513.5 L231.5,512.7 L232.0,512.0 L232.5,511.3 L233.0,510.5 L233.5,509.8 L234.0,509.1 L234.6,508.3 L235.1,507.6 L235.6,506.9 L236.1,506.1 L236.6,505.4 L237.1,504.6 L237.6,503.9 L238.1,503.2 L238.7,502.4 L239.2,501.7 L239.7,501.0 L240.2,500.2 L240.7,499.5 L241.2,498.8 L241.7,498.0 L242.2,497.3 L242.8,496.6 L243.3,495.8 L243.8,495.1 L244.3,494.3 L244.8,493.6 L245.3,492.9 L245.8,492.1 L246.3,491.4 L246.8,490.7 L247.4,489.9 L247.9,489.2 L248.4,488.5 L248.9,487.7 L249.4,487.0 L249.9,486.2 L250.4,485.5 L250.9,484.8 L251.5,484.0 L252.0,483.3 L252.5,482.6 L253.0,481.8 L253.5,481.1 L254.1,480.4 L254.8,479.8 L255.4,479.1 L256.0,478.4 L256.7,477.7 L257.3,477.1 L257.9,476.4 L258.6,475.7 L259.2,475.0 L259.8,474.4 L260.5,473.7 L261.1,473.0 L261.7,472.3 L262.4,471.7 L263.0,471.0 L263.7,470.5 L264.4,469.9 L265.1,469.4 L265.9,468.8 L266.6,468.3 L267.3,467.7 L268.0,467.2 L268.7,466.7 L269.4,466.1 L270.1,465.6 L270.9,465.0 L271.6,464.5 L272.3,463.9 L273.0,463.4 L273.8,462.9 L274.5,462.4 L275.3,461.9 L276.0,461.4 L276.8,460.9 L277.6,460.4 L278.3,459.9 L279.1,459.4 L279.9,458.9 L280.6,458.4 L281.4,458.0 L282.1,457.5 L282.9,457.0 L283.7,456.5 L284.4,456.0 L285.2,455.5 L286.0,455.0 L286.7,454.5 L287.5,454.0 L288.2,453.5 L289.0,453.0 L289.7,452.4 L290.4,451.9 L291.2,451.3 L291.9,450.8 L292.6,450.2 L293.3,449.7 L294.1,449.1 L294.8,448.6 L295.5,448.0 L295.9,447.2 L296.2,446.3 L296.6,445.5 L297.0,444.7 L297.4,443.8 L297.8,443.0 L298.1,442.2 L298.5,441.3 L298.9,440.5 L299.2,439.7 L299.6,438.8 L300.0,438.0 L300.4,437.2 L300.7,436.3 L301.1,435.5 L301.5,434.7 L301.8,433.8 L302.2,433.0 L302.6,432.2 L302.9,431.3 L303.3,430.5 L303.7,429.7 L304.0,428.8 L304.4,428.0 L304.8,427.2 L305.1,426.3 L305.5,425.5 L305.9,424.7 L306.2,423.8 L306.6,423.0 L307.3,422.5 L308.0,421.9 L308.8,421.4 L309.5,420.8 L310.2,420.3 L310.9,419.8 L311.7,419.2 L312.4,418.7 L313.1,418.2 L313.8,417.6 L314.6,417.1 L315.3,416.5 L316.0,416.0 L316.8,415.5 L317.5,415.1 L318.3,414.6 L319.1,414.1 L319.9,413.6 L320.6,413.2 L321.4,412.7 L322.2,412.2 L322.9,411.8 L323.7,411.3 L324.5,410.8 L325.3,410.3 L326.0,409.9 L326.8,409.4 L327.7,409.6 L328.6,409.9 L329.5,410.1 L330.5,410.3 L331.4,410.6 L332.3,410.8 L333.2,411.0 L334.0,410.5 L334.8,410.0 L335.6,409.6 L336.4,409.2 L337.2,408.6 L338.0,408.3 L338.9,408.0 L339.6,407.5 L340.4,406.9 L341.3,406.7 L342.1,406.2 L342.6,407.1 L342.9,407.5 L343.2,408.0 L343.9,409.4 L344.4,410.2 L344.8,410.9 L345.3,411.9 L345.8,412.4 L346.2,413.0 L347.0,414.4 L347.2,414.2 L347.9,415.5 L348.5,416.4 L349.1,417.3 L349.5,417.6 L349.9,416.8 L350.1,415.5 L350.6,414.9 L350.7,413.4 L351.3,413.0 L351.8,412.5 L352.2,411.7 L352.5,410.7 L353.2,410.5 L353.2,408.8 L353.8,408.5 L354.1,407.5 L355.0,407.3 L355.8,406.9 L356.9,407.4 L357.3,405.8 L358.4,406.3 L359.3,406.1 L359.8,405.0 L360.5,404.2 L360.5,402.9 L360.7,402.2 L361.5,402.9 L361.0,400.1 L361.5,400.2 L361.6,398.9 L362.3,399.4 L362.2,397.9 L362.0,396.0 L362.3,395.4 L362.6,395.0 L362.8,394.1 L362.8,392.7 L363.7,392.9 L364.5,392.9 L365.6,393.4 L366.4,393.4 L367.2,393.4 L367.9,392.9 L368.5,392.8 L368.6,391.3 L368.8,390.2 L369.2,389.6 L369.5,388.9 L369.9,388.1 L369.8,386.2 L370.9,387.4 L371.2,386.5 L371.7,386.2 L371.6,384.2 L372.2,384.0 L372.9,383.4 L373.6,382.9 L374.9,383.9 L375.1,382.1 L376.2,382.4 L376.3,380.3 L377.7,381.5 L378.4,380.9 L378.3,379.3 L378.7,378.6 L378.5,376.5 L379.0,376.3 L379.7,376.7 L379.1,373.6 L380.5,375.6 L380.9,375.2 L380.6,372.9 L380.5,371.2 L380.7,370.2 L381.0,369.4 L381.5,369.1 L382.8,370.9 L382.1,367.7 L382.9,368.0 L383.4,367.9 L383.0,365.2 L383.9,365.9 L385.0,367.4 L385.4,366.8 L386.9,368.9 L388.2,370.6 L388.2,369.2 L388.6,368.6 L389.9,370.3 L390.3,369.5 L390.3,367.6 L390.9,367.2 L391.5,366.8 L392.1,366.5 L392.9,366.5 L392.7,364.2 L392.7,362.3 L392.9,360.9 L394.7,363.7 L394.5,361.2 L394.9,360.2 L396.4,362.3 L396.6,360.7 L397.4,360.9 L396.9,357.9 L397.0,356.1 L397.4,355.3 L398.7,356.2 L399.5,355.8 L400.4,355.4 L401.9,356.9 L402.5,356.0 L402.3,353.0 L402.9,353.1 L403.3,352.7 L403.0,350.5 L404.3,352.5 L404.1,350.8 L404.5,350.4 L403.9,347.5 L403.7,345.6 L404.6,346.5 L404.6,345.0 L404.6,343.7 L404.9,343.2 L405.3,342.7 L405.5,341.9 L405.5,340.7 L406.0,340.4 L407.4,342.2 L407.3,340.1 L406.9,337.3 L408.2,338.7 L407.8,335.7 L407.6,333.3 L407.9,332.3 L408.0,330.7 L409.7,333.1 L409.5,330.7 L409.7,329.3 L410.5,329.3 L411.2,329.0 L411.3,327.3 L411.9,327.1 L412.6,327.0 L413.4,327.1 L413.3,324.8 L414.3,325.3 L414.7,324.5 L415.3,324.1 L415.3,322.3 L415.7,320.9 L417.2,322.4 L418.0,321.9 L418.2,320.1 L418.8,319.2 L420.1,320.1 L421.4,321.3 L421.6,319.4 L423.1,320.8 L423.1,318.4 L423.7,317.5 L424.5,317.9 L425.6,318.9 L425.4,316.7 L426.7,318.2 L428.0,319.9 L427.8,317.6 L429.2,319.3 L430.3,320.4 L431.5,321.9 L432.4,322.3 L432.3,320.0 L433.6,321.1 L433.1,317.5 L433.3,315.9 L434.9,317.9 L435.4,317.0 L435.3,314.4 L436.6,315.7 L437.2,315.1 L437.8,314.3 L437.9,312.4 L438.0,310.6 L438.3,309.3 L439.5,310.0 L440.0,309.5 L440.4,308.4 L440.8,307.5 L441.8,308.2 L441.5,305.5 L442.0,304.8 L443.5,306.8 L443.1,303.8 L443.4,302.6 L444.5,303.4 L443.9,300.0 L445.6,302.2 L445.1,299.0 L445.5,298.2 L445.8,296.9 L446.3,296.3 L446.9,295.8 L448.0,296.8 L448.0,295.2 L448.9,295.7 L449.1,294.5 L448.5,291.5 L449.2,291.5 L449.3,290.1 L449.7,289.4 L450.2,289.1 L450.7,288.6 L451.1,287.9 L450.3,284.4 L451.3,285.1 L451.6,284.2 L453.2,286.1 L453.3,283.9 L454.0,283.3 L454.7,282.9 L455.7,283.2 L455.7,280.9 L456.7,281.1 L457.5,280.8 L458.3,280.4 L458.9,279.7 L459.7,279.1 L460.8,279.5 L461.2,277.9 L463.3,280.5 L463.7,279.1 L463.9,276.8 L465.2,277.7 L466.2,278.4 L466.2,276.7 L466.5,275.8 L466.0,272.7 L467.7,275.4 L467.8,273.8 L467.2,270.7 L468.0,271.1 L469.3,272.5 L469.4,271.0 L468.9,268.1 L469.5,267.9 L470.2,268.0 L471.4,269.3 L471.2,267.0 L471.6,266.4 L471.6,264.5 L472.0,263.9 L472.0,262.0 L472.3,260.7 L472.7,259.7 L473.5,259.7 L474.7,261.0 L474.8,259.2 L475.7,259.5 L476.1,258.5 L476.3,257.0 L476.4,255.4 L477.9,257.2 L478.1,255.8 L478.6,255.0 L479.5,255.5 L479.8,254.0 L479.7,251.8 L480.2,250.9 L480.8,250.3 L482.0,251.4 L481.4,247.6 L481.4,245.5 L482.3,245.8 L483.1,245.8 L483.8,245.8 L485.1,247.7 L485.9,248.1 L486.5,247.8 L487.3,248.2 L488.9,250.6 L489.9,251.5 L490.6,251.7 L490.2,248.7 L491.1,249.1 L490.7,246.0 L490.7,244.0 L492.5,246.7 L492.9,245.7 L493.2,244.6 L494.0,244.6 L494.6,244.1 L494.5,242.0 L494.8,240.9 L495.4,240.4 L496.0,239.9 L496.2,238.4 L496.3,236.5 L498.6,240.0 L498.4,237.1 L499.0,236.6 L500.3,237.6 L501.0,236.9 L502.0,237.3 L503.6,239.1 L503.9,239.2 L503.6,237.9 L504.3,239.0 L504.7,239.4 L505.8,241.4 L505.5,240.2 L505.9,240.4 L506.1,240.3 L507.5,243.2 L507.8,242.6 L508.2,242.1 L508.6,241.5 L508.0,238.5 L508.5,238.1 L508.5,236.6 L509.6,238.1 L509.9,237.3 L509.2,234.0 L510.1,234.8 L510.3,233.8 L510.6,232.9 L511.0,232.6 L510.8,230.5 L511.2,229.7 L511.5,228.5 L511.8,227.6 L512.0,226.3 L513.3,227.6 L513.6,226.6 L513.6,224.8 L513.3,222.3 L515.0,225.1 L514.7,222.7 L514.9,221.6 L515.3,221.2 L516.0,221.5 L515.5,218.7 L514.8,215.3 L515.7,216.0 L516.2,215.7 L516.3,214.4 L517.3,215.5 L516.9,213.0 L517.4,212.7 L517.2,210.8 L518.0,211.4 L517.8,209.4 L518.6,209.9 L518.6,208.6 L518.8,207.7 L519.2,207.0 L518.6,204.3 L519.2,204.2 L520.3,204.6 L520.8,203.7 L522.2,204.8 L522.9,204.3 L523.0,202.2 L524.3,203.3 L524.6,201.7 L525.6,201.8 L526.6,202.2 L526.5,199.5 L526.9,198.6 L527.7,198.6 L528.1,197.8 L528.0,195.6 L529.3,197.0 L529.8,196.2 L530.3,195.5 L530.8,194.9 L531.5,194.6 L531.3,192.3 L532.5,192.9 L533.1,192.0 L533.8,191.6 L534.4,190.8 L536.0,192.6 L535.5,188.9 L536.7,189.7 L538.2,191.1 L538.7,190.0 L539.4,189.1 L540.8,190.4 L541.0,188.2 L541.9,188.2 L543.0,188.6 L543.5,187.4 L544.3,186.8 L544.8,186.6 L545.5,186.8 L545.2,184.3 L545.9,184.6 L546.1,183.4 L546.2,182.3 L546.1,180.4 L547.6,182.5 L547.9,182.6 L548.3,182.8 L548.5,182.8 L549.8,185.3 L549.5,184.0 L549.8,183.9 L549.8,183.1 L550.2,182.9 L550.4,182.5 L549.6,179.3 L550.3,180.3 L550.4,179.5" fill="none" stroke="#de1f24" stroke-width="4.2" stroke-linejoin="round" stroke-linecap="butt"/>
<path d="M280.2,499.7 L280.7,499.0 L281.3,498.3 L281.8,497.5 L282.4,496.8 L282.9,496.1 L283.5,495.4 L284.0,494.7 L284.5,493.9 L285.1,493.2 L285.6,492.5 L286.2,491.8 L286.7,491.1 L287.3,490.3 L287.8,489.6 L288.3,488.9 L288.9,488.2 L289.4,487.5 L290.0,486.7 L290.5,486.0 L291.1,485.3 L291.6,484.6 L292.1,483.9 L292.7,483.1 L293.2,482.4 L293.8,481.7 L294.3,481.0 L294.9,480.3 L295.4,479.5 L295.9,478.8 L296.5,478.1 L297.0,477.4 L297.6,476.7 L298.1,476.0 L298.7,475.2 L299.2,474.5 L299.7,473.8 L300.3,473.1 L300.8,472.4 L301.4,471.6 L301.9,470.9 L302.5,470.2 L303.0,469.5 L303.5,468.8 L304.1,468.0 L304.6,467.3 L305.2,466.6 L305.7,465.9 L306.3,465.2 L306.8,464.4 L307.3,463.7 L307.9,463.0 L308.4,462.3 L309.0,461.6 L309.5,460.8 L310.1,460.1 L310.6,459.4 L311.1,458.7 L311.7,457.9 L312.2,457.2 L312.8,456.5 L313.3,455.7 L313.8,455.0 L314.4,454.3 L314.9,453.5 L315.5,452.8 L316.0,452.1 L316.5,451.3 L317.1,450.6 L317.6,449.9 L318.2,449.1 L318.7,448.4 L319.2,447.7 L319.8,446.9 L320.3,446.2 L320.8,445.5 L321.4,444.7 L321.9,444.0 L322.5,443.3 L323.0,442.5 L323.5,441.8 L324.1,441.1 L324.6,440.3 L325.2,439.6 L325.7,438.9 L326.2,438.1 L326.8,437.4 L327.3,436.7 L327.9,435.9 L328.4,435.2 L329.0,434.5 L329.5,433.8 L330.1,433.1 L330.7,432.4 L331.3,431.7 L331.8,431.0 L332.4,430.4 L333.0,429.7 L333.6,429.0 L334.1,428.3 L334.7,427.6 L335.3,426.9 L335.9,426.2 L336.4,425.5 L337.0,424.8 L337.6,424.1 L338.2,423.4 L338.8,422.7 L339.3,422.0 L339.9,421.3 L340.5,420.6 L341.1,420.0 L341.6,419.3 L342.2,418.6 L342.8,417.9 L343.4,417.2 L343.9,416.5 L344.5,415.8 L345.1,415.2 L345.7,414.5 L346.3,413.9 L347.0,413.2 L347.6,412.6 L348.2,412.0 L348.8,411.3 L349.4,410.7 L350.0,410.1 L350.6,409.4 L351.3,408.8 L351.9,408.1 L352.5,407.5 L353.1,406.9 L353.7,406.2 L354.3,405.6 L354.9,405.0 L355.5,404.3 L356.2,403.7 L356.8,403.0 L357.4,402.4 L358.0,401.8 L358.6,401.1 L359.2,400.5 L359.8,399.9 L360.5,399.2 L361.1,398.6 L361.7,397.9 L362.3,397.3 L363.2,397.0 L364.0,396.7 L364.9,396.4 L365.7,396.0 L366.6,395.7 L367.5,395.4 L368.3,395.1 L369.2,394.8 L370.1,394.5 L370.9,394.1 L371.8,393.8 L372.6,393.5 L373.5,393.2 L374.2,392.6 L375.0,392.1 L375.7,391.5 L376.5,391.0 L377.2,390.4 L378.0,389.9 L378.7,389.3 L379.5,388.8 L380.2,388.2 L381.0,387.7 L381.7,387.1 L382.5,386.6 L383.2,386.0 L383.9,385.5 L384.6,384.9 L385.3,384.4 L386.0,383.8 L386.8,383.3 L387.5,382.8 L388.2,382.2 L388.9,381.7 L389.6,381.1 L390.3,380.6 L391.0,380.1 L391.7,379.5 L392.4,379.0 L393.2,378.5 L393.9,377.9 L394.6,377.4 L395.3,376.8 L396.0,376.3 L396.6,375.6 L397.2,374.9 L397.8,374.2 L398.4,373.5 L399.0,372.8 L399.5,372.1 L400.1,371.4 L400.7,370.7 L401.3,370.0 L401.9,369.4 L402.5,368.7 L403.1,368.0 L403.7,367.3 L404.3,366.5 L404.9,365.9 L405.5,365.2 L406.1,364.5 L406.6,363.8 L407.2,363.1 L407.8,362.4 L408.4,361.7 L409.0,360.9 L409.5,360.3 L410.0,359.4 L410.6,358.7 L411.2,358.1 L411.8,357.6 L412.3,356.8 L412.8,355.9 L413.3,355.1 L413.9,354.5 L414.5,353.9 L415.0,353.2 L415.5,352.2 L416.0,351.5 L416.5,350.7 L417.0,349.9 L417.5,349.1 L418.1,348.4 L418.5,347.4 L419.1,346.7 L419.8,346.4 L420.2,345.4 L421.3,345.8 L422.0,345.5 L423.0,345.7 L424.0,346.1 L424.3,345.0 L424.6,344.2 L425.3,344.2 L425.4,342.8 L425.8,341.8 L426.1,341.0 L426.6,340.4 L426.9,339.7 L427.4,339.2 L427.8,338.4 L428.0,337.2 L428.4,336.4 L428.8,335.3 L429.3,334.5 L430.0,333.9 L430.8,333.7 L431.3,332.9 L432.0,332.4 L432.6,331.7 L433.1,330.6 L433.9,330.6 L434.2,329.1 L434.7,328.2 L435.5,328.6 L436.6,329.6 L437.2,329.6 L437.9,329.7 L438.9,330.5 L439.9,331.3 L440.5,331.3 L441.3,331.5 L441.8,331.2 L442.1,330.5 L442.3,329.6 L442.3,328.0 L442.7,327.5 L443.0,326.7 L442.9,324.9 L443.7,325.3 L443.9,324.2 L444.0,323.1 L444.8,323.4 L444.7,321.8 L444.8,320.4 L445.2,319.8 L445.6,319.3 L445.9,318.6 L446.1,317.4 L446.1,316.1 L446.4,315.2 L446.7,314.3 L446.9,313.3 L447.4,313.0 L447.6,312.0 L448.1,311.5 L448.3,310.3 L448.7,309.3 L449.2,308.9 L449.6,308.0 L450.4,308.0 L450.4,306.3 L451.0,305.9 L451.4,305.0 L451.5,303.5 L452.3,303.7 L452.6,302.8 L452.5,300.7 L453.4,301.1 L454.0,300.8 L454.1,299.1 L455.4,300.9 L455.9,300.9 L456.4,300.6 L457.5,302.0 L458.1,301.1 L458.5,299.8 L459.0,298.6 L460.3,299.4 L460.9,298.5 L462.0,298.7 L462.7,298.2 L463.2,297.0 L463.9,296.4 L465.2,297.2 L466.0,296.9 L466.6,295.8 L467.0,294.4 L467.5,293.4 L468.4,293.1 L469.6,294.0 L470.2,293.0 L470.7,291.9 L471.2,290.7 L472.3,290.9 L472.8,289.9 L473.7,289.9 L474.7,290.0 L475.6,289.8 L476.1,288.7 L476.7,287.8 L477.2,287.3 L477.9,287.6 L478.0,286.1 L477.9,284.0 L478.8,284.8 L479.0,283.5 L480.1,284.7 L479.6,281.8 L479.9,280.8 L480.2,279.8 L480.7,279.4 L480.8,278.1 L480.9,276.6 L481.0,275.4 L482.2,276.0 L483.0,275.5 L483.7,275.0 L485.1,276.3 L485.7,275.4 L486.5,275.1 L486.9,273.6 L487.7,273.5 L488.4,272.8 L489.1,272.3 L490.1,272.5 L490.9,272.1 L491.6,271.5 L492.3,270.9 L492.7,269.4 L493.2,268.8 L493.9,268.8 L494.2,267.7 L494.5,266.5 L495.2,266.4 L495.3,264.9 L495.7,264.1 L496.5,264.3 L496.7,262.9 L497.6,263.1 L497.8,262.0 L498.3,261.3 L498.8,260.7 L498.4,257.8 L499.2,257.9 L499.4,256.5 L500.0,256.1 L500.5,255.6 L501.3,255.8 L501.7,255.8 L502.6,257.4 L502.8,256.9 L503.4,257.7 L504.1,258.5 L504.9,259.7 L505.3,259.9 L505.8,260.1 L506.4,260.9 L506.8,260.9 L508.0,263.1 L508.6,263.8 L509.2,264.3 L509.4,263.3 L509.6,261.9 L509.9,261.0 L510.5,260.9 L510.5,259.2 L510.8,258.2 L511.7,258.8 L512.2,258.3 L512.2,256.6 L512.6,255.8 L512.8,254.7 L513.5,254.6 L513.4,252.7 L513.8,252.0 L514.3,251.4 L514.9,251.2 L514.8,249.4 L515.2,248.7 L515.4,247.4 L516.1,247.8 L516.9,248.3 L517.9,249.3 L518.9,250.5 L519.4,250.1 L520.1,250.6 L520.5,249.8 L521.1,249.5 L521.6,249.1 L521.5,247.1 L522.1,247.1 L522.2,245.6 L523.0,245.7 L523.0,244.0 L523.2,243.0 L523.7,242.3 L524.2,242.0 L524.4,240.7 L525.0,240.5 L525.4,239.8 L525.7,239.0 L526.1,238.3 L526.7,237.9 L526.7,236.2 L527.1,235.6 L527.4,234.8 L527.3,232.6 L528.1,233.1 L528.2,231.8 L528.5,230.8 L528.9,230.2 L529.4,229.7 L529.8,229.1 L530.1,228.3 L530.2,226.8 L530.9,226.7 L531.2,225.8 L531.4,224.5 L531.8,223.8 L532.3,223.5 L532.6,222.5 L533.0,221.8 L533.3,220.7 L534.2,221.8 L535.1,223.1 L535.4,222.6 L535.5,221.6 L536.9,223.9 L537.0,222.1 L537.3,220.7 L537.6,219.2 L538.8,220.1 L539.6,220.2 L540.2,219.6 L540.5,218.0 L541.4,218.3 L541.7,216.8 L542.1,215.7 L542.8,215.3 L543.4,214.7 L544.0,214.0 L544.6,213.5 L544.7,211.3 L546.2,212.9 L546.6,211.4 L547.5,211.4 L547.9,210.1 L548.8,210.0 L549.5,209.4 L549.9,207.9 L551.0,208.4 L551.7,208.1 L551.8,206.4 L552.0,204.9 L552.9,204.9 L553.4,204.3 L554.2,204.2 L554.7,203.5 L555.7,203.9 L556.0,202.8 L556.3,201.4 L556.9,200.9 L556.7,198.3 L557.6,198.5 L558.2,197.9 L558.9,197.8 L559.8,197.7 L560.5,197.2 L561.3,197.2 L561.7,195.8 L562.6,195.8 L563.2,195.1 L563.9,194.7 L564.4,194.1 L564.7,192.9 L565.3,192.4 L565.6,191.5 L566.3,191.3 L566.5,189.9 L567.0,189.2 L568.0,189.9 L568.1,188.1 L568.4,187.1 L569.0,186.6 L568.9,184.5 L569.7,184.6 L570.2,183.9 L570.6,183.0 L571.2,182.5 L571.6,181.6 L572.1,181.1 L572.1,179.2 L572.7,178.8 L572.9,177.5 L573.8,177.7 L574.3,176.8 L574.6,175.3 L575.6,175.5 L576.0,174.5 L577.2,175.1 L577.7,174.1 L577.9,172.3 L578.5,172.3 L579.1,172.5 L579.3,171.5 L579.3,170.0 L579.9,169.8 L580.2,169.0 L580.7,168.8 L580.8,167.7 L580.9,166.4 L580.9,164.8 L581.4,164.4 L581.7,163.7 L581.9,162.7 L582.2,162.1 L582.1,160.3 L582.8,160.3 L583.0,159.3 L583.3,158.6 L583.7,159.2 L584.1,159.8 L584.7,160.9 L585.3,162.1 L585.5,162.3 L586.1,163.4 L586.3,163.6 L587.1,163.5 L587.5,162.6 L587.7,161.1 L588.7,161.8 L588.8,160.1 L589.5,159.8 L589.7,158.3 L590.0,157.1 L591.1,159.2 L591.2,158.8 L591.4,158.9 L592.3,160.5 L592.6,160.5 L593.1,160.4 L593.9,160.9 L593.7,159.0 L594.0,158.3 L594.3,157.6 L594.5,156.6 L594.6,155.5 L595.2,155.6 L595.1,153.9 L595.4,153.2 L595.6,152.2 L595.5,150.4 L596.0,150.3 L596.4,149.5 L596.9,149.1 L597.4,148.4 L598.0,148.2 L597.6,145.3 L598.1,144.9 L598.6,144.3 L598.9,143.2 L599.5,143.2 L599.9,142.2 L600.3,141.5 L600.3,139.6 L600.7,139.0 L601.4,138.8 L601.7,137.9 L602.0,137.0 L602.5,136.4 L603.1,135.8 L603.5,134.7 L604.7,135.7 L604.9,134.0 L605.7,134.0 L606.4,133.4 L607.1,133.1 L607.3,131.6 L608.0,131.5 L609.1,132.7 L609.9,133.2 L610.1,132.0 L610.7,131.9 L612.0,133.5 L612.9,134.2 L613.8,134.8 L614.4,134.4 L614.5,132.8 L615.8,134.1 L616.0,132.6 L616.4,131.9 L616.6,130.5 L616.4,128.1 L617.3,128.4 L617.6,127.4 L618.3,127.1 L618.6,126.1 L619.2,125.7 L619.4,124.4" fill="none" stroke="#8e5fbe" stroke-width="4.2" stroke-linejoin="round" stroke-linecap="butt"/>
<path d="M859.4,564.5 L860.0,563.8 L860.6,563.2 L861.3,562.5 L861.9,561.9 L862.5,561.2 L863.1,560.6 L863.7,559.9 L864.4,559.2 L865.0,558.6 L865.6,557.9 L866.2,557.3 L866.8,556.6 L867.5,556.0 L868.1,555.3 L868.7,554.6 L869.3,554.0 L869.9,553.3 L870.6,552.7 L871.2,552.0 L871.8,551.4 L872.4,550.7 L873.0,550.0 L873.7,549.4 L874.3,548.7 L874.9,548.1 L875.5,547.4 L876.1,546.8 L876.8,546.1 L877.4,545.4 L878.0,544.8 L878.6,544.1 L879.2,543.5 L879.9,542.8 L880.5,542.2 L881.1,541.5 L881.7,540.9 L882.3,540.2 L883.0,539.5 L883.6,538.9 L884.2,538.2 L884.8,537.6 L885.4,536.9 L886.1,536.3 L886.7,535.6 L887.3,534.9 L887.9,534.3 L888.5,533.6 L889.2,533.0 L889.8,532.3 L890.4,531.7 L891.0,531.0 L891.6,530.3 L892.3,529.7 L892.9,529.0 L893.5,528.4 L894.1,527.7 L894.7,527.1 L895.4,526.4 L896.0,525.7 L896.6,525.1 L897.2,524.4 L897.8,523.8 L898.5,523.1 L899.1,522.5 L899.7,521.8 L900.4,521.3 L901.2,520.8 L901.9,520.2 L902.6,519.7 L903.3,519.2 L904.1,518.7 L904.8,518.1 L905.5,517.6 L906.3,517.1 L907.0,516.6 L907.7,516.1 L908.4,515.5 L909.2,515.0 L909.9,514.5 L910.6,514.0 L911.4,513.4 L912.1,512.9 L912.8,512.4 L913.6,511.9 L914.3,511.3 L915.0,510.8 L915.7,510.3 L916.5,509.8 L917.2,509.3 L917.9,508.7 L918.7,508.2 L919.4,507.7 L920.1,507.2 L920.8,506.6 L921.6,506.1 L922.3,505.6 L923.1,505.1 L923.8,504.6 L924.6,504.2 L925.4,503.7 L926.2,503.2 L926.9,502.7 L927.7,502.3 L928.5,501.8 L929.3,501.3 L930.0,500.8 L930.8,500.3 L931.6,499.9 L932.4,499.4 L933.1,498.9 L933.9,498.4 L934.7,498.0 L935.5,497.5 L936.2,497.0 L937.0,496.5 L937.8,496.0 L938.6,495.6 L939.3,495.1 L940.1,494.6 L940.9,494.1 L941.7,493.7 L942.4,493.2 L943.2,492.7 L944.0,492.3 L944.8,491.9 L945.6,491.6 L946.3,491.2 L947.1,490.8 L947.9,490.4 L948.7,490.0 L949.5,489.7 L950.3,489.3 L951.1,488.9 L951.9,488.5 L952.6,488.1 L953.4,487.8 L954.2,487.4 L955.0,487.0 L955.8,486.7 L956.7,486.4 L957.5,486.2 L958.3,485.9 L959.2,485.6 L960.0,485.3 L960.9,485.0 L961.7,484.7 L962.5,484.5 L963.4,484.2 L964.2,483.9 L964.5,483.0 L964.8,482.1 L965.2,481.3 L965.5,480.5 L965.8,479.7 L966.1,478.8 L966.4,477.9 L966.7,476.9 L967.1,476.2 L967.4,475.3 L967.7,474.4 L968.0,473.6 L968.3,472.6 L968.7,472.0 L969.0,471.1 L969.7,470.5 L970.5,469.9 L971.1,469.2 L971.9,468.8 L972.6,468.2 L973.4,467.7 L974.0,467.0 L974.8,466.5 L975.6,466.2 L976.3,465.7 L977.0,464.9 L977.7,464.4 L978.5,464.1 L979.2,463.7 L979.9,463.0 L980.6,462.5 L981.3,462.0 L982.0,461.5 L982.8,461.0 L983.6,460.8 L984.3,460.3 L985.1,460.0 L985.6,459.0 L986.1,458.2 L986.7,457.4 L987.3,456.7 L987.8,455.9 L988.3,455.0 L989.0,454.6 L989.7,454.1 L990.2,453.3 L990.8,452.7 L991.3,451.8 L991.8,450.9 L992.4,450.2 L993.0,449.4 L993.4,448.6 L993.9,447.7 L994.5,447.0 L995.1,446.6 L995.7,446.0 L996.1,445.2 L996.8,444.8 L997.3,443.9 L997.8,443.3 L998.4,442.7 L998.8,441.6 L999.2,440.6 L999.9,440.4 L1000.4,439.5 L1001.0,439.2 L1001.5,438.3 L1002.1,437.7 L1002.7,437.0 L1003.0,435.7 L1003.8,435.5 L1004.3,434.6 L1004.9,433.8 L1005.5,433.2 L1006.3,432.8 L1006.9,432.1 L1007.5,431.5 L1007.9,430.1 L1008.5,429.6 L1008.9,428.4 L1009.7,428.2 L1010.4,427.8 L1010.9,426.8 L1011.5,426.2 L1011.9,425.5 L1012.5,424.9 L1012.8,423.7 L1013.2,422.8 L1013.6,422.0 L1014.4,421.9 L1014.8,421.1 L1015.1,420.0 L1015.6,419.2 L1016.0,418.4 L1016.5,417.6 L1016.9,416.7 L1017.4,415.9 L1017.8,414.9 L1018.5,414.3 L1019.3,414.4 L1019.9,413.5 L1020.4,412.6 L1020.9,411.8 L1021.5,411.1 L1022.2,410.6 L1022.6,409.6 L1023.3,409.1 L1023.9,408.4 L1024.4,407.4 L1024.9,406.7 L1025.5,405.9 L1026.1,405.2 L1026.9,405.1 L1027.1,403.5 L1027.9,403.3 L1028.5,402.6 L1029.0,401.8 L1029.6,401.4 L1030.3,401.0 L1030.8,400.1 L1031.3,399.2 L1031.7,398.4 L1032.3,397.8 L1033.0,397.4 L1033.4,396.4 L1033.9,395.4 L1034.4,394.6 L1034.9,393.9 L1035.4,393.1 L1036.3,393.2 L1036.8,392.4 L1037.3,391.5 L1038.0,391.3 L1038.3,390.0 L1039.0,389.6 L1039.6,389.0 L1039.8,387.6 L1040.4,386.8 L1041.0,386.3 L1041.9,386.2 L1042.6,385.8 L1042.9,384.4 L1043.7,384.3 L1044.1,383.3 L1044.7,382.5 L1045.3,381.8 L1045.9,381.2 L1046.3,380.0 L1047.0,379.5 L1047.5,378.8 L1048.3,378.7 L1049.2,378.6 L1049.9,378.3 L1050.1,376.7 L1050.5,375.4 L1051.2,375.1 L1051.8,374.3 L1052.9,374.5 L1053.4,373.6 L1053.9,372.4 L1054.8,372.2 L1055.4,371.5 L1055.8,370.1 L1056.6,369.8 L1057.4,369.4 L1058.2,369.0 L1058.9,368.5 L1059.6,367.8 L1060.4,367.4 L1061.1,366.7 L1061.7,366.0 L1062.8,366.2 L1063.2,365.3 L1063.7,364.6 L1064.0,363.2 L1064.7,362.8 L1065.4,362.5 L1065.7,361.2 L1066.4,361.1 L1066.8,360.0 L1067.4,359.5 L1067.6,358.5 L1067.9,357.6 L1068.2,357.0 L1068.3,355.7 L1068.7,355.3 L1068.7,353.8 L1068.9,352.7 L1069.6,352.4 L1069.9,351.2 L1070.4,350.5 L1071.1,350.2 L1071.7,349.6 L1071.8,347.9 L1072.5,347.7 L1073.2,347.5 L1073.7,346.6 L1074.0,345.3 L1074.4,344.4 L1074.9,343.6 L1075.3,342.6 L1076.0,342.1 L1076.5,341.5 L1077.0,340.8 L1077.7,340.5 L1078.1,339.4 L1078.4,338.2 L1079.2,338.2 L1079.5,336.9 L1080.1,336.3 L1080.6,335.7 L1081.1,335.0 L1081.6,334.0 L1082.2,333.5 L1083.0,333.6 L1083.2,332.1 L1083.7,331.4 L1084.4,331.1 L1084.9,330.3 L1085.4,329.6 L1085.9,328.9 L1086.1,327.3 L1086.7,326.8 L1087.4,326.4 L1087.9,325.9 L1088.6,325.4 L1089.1,324.5 L1089.5,323.6 L1090.1,322.9 L1090.6,322.2 L1091.2,321.6 L1091.9,321.1 L1092.3,320.1 L1092.8,319.2 L1093.3,318.4 L1094.1,318.3 L1094.7,317.8 L1095.3,317.1 L1095.8,316.3 L1096.4,315.6 L1096.8,314.6 L1097.5,314.1 L1097.8,312.9 L1098.4,312.4 L1099.0,311.5 L1099.7,311.3 L1100.1,310.2 L1100.7,309.6 L1101.3,309.1 L1102.0,308.7 L1102.4,307.4 L1102.9,306.5 L1103.6,306.3 L1104.0,305.1 L1104.7,304.7 L1105.2,303.8 L1105.8,303.1 L1106.2,301.9 L1107.0,301.9 L1107.5,300.9 L1108.0,300.0 L1108.9,300.2 L1109.3,299.2 L1110.2,299.3 L1110.5,297.8 L1110.9,296.6 L1111.5,296.0 L1112.2,295.7 L1112.6,294.6 L1113.2,293.9 L1113.7,293.3 L1114.1,292.1 L1114.7,291.6 L1115.2,290.7 L1115.6,289.7 L1116.4,289.6 L1117.0,289.0 L1117.4,288.1 L1117.8,287.0 L1118.2,285.9 L1119.0,285.8 L1119.5,285.1 L1119.9,283.9 L1120.6,283.5 L1120.9,282.4 L1121.6,282.1 L1122.2,281.5 L1122.8,280.9 L1123.3,280.1 L1123.8,279.4 L1124.2,278.3 L1124.8,277.7 L1125.3,277.0 L1125.9,276.3 L1126.5,275.8 L1127.1,275.2 L1127.8,274.9 L1128.0,273.0 L1128.8,273.1 L1129.4,272.4 L1130.3,272.5 L1130.8,271.6 L1131.1,270.1 L1131.9,269.9 L1132.5,269.1 L1133.2,268.8 L1133.6,267.6 L1134.3,267.2 L1134.9,266.6 L1135.6,265.9 L1136.1,265.2 L1136.6,264.1 L1137.4,264.1 L1138.2,263.7 L1138.7,262.8 L1139.1,261.8 L1139.9,261.4 L1140.6,261.0 L1141.1,260.1 L1141.7,259.5 L1142.5,259.3 L1142.8,257.9 L1143.5,257.3 L1143.9,256.2 L1144.6,255.9 L1145.3,255.3 L1145.9,254.6 L1146.5,254.0 L1147.4,254.1 L1147.9,253.0 L1148.5,252.3 L1149.4,252.3 L1149.7,251.1 L1150.2,249.9 L1151.2,249.8 L1151.8,248.9 L1152.8,249.1 L1153.2,247.7 L1154.0,247.2 L1154.6,246.3 L1155.5,246.2 L1156.1,245.3 L1156.9,245.0 L1157.6,244.4 L1158.3,243.7 L1159.2,243.7 L1160.0,243.2 L1160.6,242.5 L1161.2,241.6 L1161.9,240.9 L1162.8,240.8 L1163.8,241.0 L1164.2,239.7 L1164.6,238.7 L1165.1,238.0 L1165.5,237.1 L1166.0,236.4 L1166.5,235.9 L1167.2,235.7 L1167.6,234.7 L1168.0,233.7 L1168.3,232.6 L1169.0,232.4 L1169.6,231.8 L1170.1,230.8 L1170.8,230.2 L1171.6,229.9 L1172.4,229.7 L1173.0,229.1 L1173.6,228.4 L1174.2,227.6 L1174.9,227.2 L1175.5,226.5 L1176.4,226.6 L1176.7,225.1 L1177.4,224.5 L1178.3,224.5 L1178.8,223.5 L1179.6,223.3 L1180.2,222.3 L1180.8,221.7 L1181.4,220.9 L1182.0,220.0 L1182.6,219.4 L1183.7,219.8 L1184.3,218.9 L1184.9,218.3 L1185.4,217.6 L1185.9,216.8 L1186.4,216.2 L1186.8,215.0 L1187.3,214.2 L1187.9,213.9 L1188.3,212.8 L1188.6,211.7 L1189.2,211.2 L1189.7,210.4 L1190.4,210.0 L1190.7,208.9 L1191.2,208.0 L1191.6,207.4 L1192.1,207.2 L1192.3,206.1 L1192.7,205.2 L1193.0,204.4 L1193.3,203.6 L1193.8,203.1 L1194.2,202.4 L1194.1,200.7 L1194.8,200.7 L1195.0,199.6 L1195.3,198.6 L1195.9,198.6 L1196.0,197.2 L1196.6,196.9 L1196.9,195.9 L1197.0,194.5 L1197.5,194.0 L1197.9,193.4 L1198.1,192.3 L1198.4,191.3" fill="none" stroke="#1873b8" stroke-width="4.2" stroke-linejoin="round" stroke-linecap="butt"/>
<path d="M722.2,678.0 L723.0,677.7 L723.9,677.3 L724.7,677.0 L725.6,676.7 L726.4,676.3 L727.3,676.0 L728.1,675.7 L729.0,675.4 L729.8,675.0 L730.6,674.7 L731.5,674.4 L732.3,674.0 L733.2,673.7 L734.0,673.4 L734.9,673.0 L735.7,672.7 L736.6,672.4 L737.4,672.1 L738.2,671.7 L739.1,671.4 L739.9,671.1 L740.8,670.7 L741.6,670.4 L742.5,670.1 L743.3,669.7 L744.1,669.4 L745.0,669.1 L745.8,668.8 L746.7,668.4 L747.5,668.1 L748.4,667.8 L749.2,667.4 L750.1,667.1 L750.9,666.8 L751.7,666.4 L752.6,666.1 L753.4,665.8 L754.3,665.5 L755.1,665.1 L756.0,664.8 L756.8,664.5 L757.7,664.1 L758.5,663.8 L759.4,663.5 L760.2,663.3 L761.1,663.0 L761.9,662.7 L762.8,662.4 L763.6,662.2 L764.5,661.9 L765.3,661.6 L766.2,661.3 L767.0,661.1 L767.9,660.8 L768.8,660.5 L769.6,660.3 L770.5,660.0 L771.3,659.7 L772.2,659.4 L773.0,659.2 L773.9,658.9 L774.7,658.6 L775.6,658.3 L776.4,658.1 L777.3,657.8 L778.2,657.5 L779.0,657.3 L779.9,657.0 L780.7,656.7 L781.6,656.4 L782.4,656.2 L783.3,655.9 L784.1,655.6 L785.0,655.3 L785.8,655.1 L786.7,654.8 L787.2,654.1 L787.8,653.4 L788.3,652.7 L788.8,652.0 L789.4,651.2 L789.9,650.5 L790.4,649.8 L791.0,649.1 L791.5,648.4 L792.0,647.7 L792.6,647.0 L793.1,646.3 L793.6,645.5 L794.2,644.8 L794.7,644.1 L795.2,643.4 L795.8,642.7 L796.3,642.0 L796.8,641.3 L797.3,640.6 L797.9,639.9 L798.4,639.1 L798.9,638.4 L799.5,637.7 L800.0,637.0 L800.5,636.3 L801.1,635.6 L801.6,634.9 L802.1,634.2 L802.7,633.4 L803.2,632.7 L803.7,632.0 L804.3,631.3 L804.8,630.6 L805.7,630.5 L806.5,630.3 L807.4,630.1 L808.3,630.0 L809.2,629.9 L810.0,629.7 L810.9,629.5 L811.8,629.4 L812.6,629.2 L813.5,629.1 L814.4,629.0 L815.3,628.8 L816.1,628.6 L817.0,628.5 L817.5,627.7 L818.0,627.0 L818.5,626.2 L819.0,625.5 L819.5,624.7 L820.0,624.0 L820.5,623.2 L821.0,622.5 L821.5,621.7 L822.0,621.0 L822.5,620.2 L823.0,619.5 L823.5,618.7 L824.0,617.9 L824.5,617.2 L825.0,616.4 L825.5,615.7 L826.0,614.9 L826.5,614.2 L827.0,613.4 L827.5,612.7 L828.0,611.9 L828.5,611.2 L829.0,610.4 L829.9,610.1 L830.8,609.9 L831.7,609.6 L832.6,609.3 L833.4,609.1 L834.3,608.8 L835.2,608.5 L836.1,608.3 L837.0,608.0 L837.9,607.8 L838.8,607.6 L839.7,607.5 L840.6,607.3 L841.6,607.1 L842.5,606.9 L843.4,606.8 L844.3,606.6 L845.2,606.4 L845.7,605.6 L846.2,604.9 L846.7,604.1 L847.2,603.3 L847.7,602.5 L848.2,601.8 L848.7,601.0 L849.2,600.2 L849.7,599.5 L850.2,598.7 L850.7,597.9 L851.2,597.2 L851.7,596.4 L852.2,595.6 L852.7,594.9 L853.2,594.1 L853.7,593.3 L854.2,592.5 L854.7,591.8 L855.2,591.0 L855.8,590.3 L856.3,589.6 L856.9,588.9 L857.5,588.2 L858.0,587.6 L858.6,586.9 L859.2,586.2 L859.8,585.5 L860.3,584.8 L860.9,584.1 L861.5,583.4 L862.0,582.8 L862.6,582.1 L863.2,581.4 L863.7,580.7 L864.3,580.0 L864.9,580.6 L865.5,581.2 L866.1,581.8 L866.7,582.4 L867.3,583.0 L867.9,582.3 L868.4,581.6 L869.0,581.0 L869.6,580.3 L870.1,579.6 L870.7,578.9 L871.3,578.2 L871.8,577.6 L872.4,576.9 L873.0,576.2 L873.5,575.5 L874.1,574.8 L874.7,574.2 L875.3,573.5 L875.8,572.8 L876.4,572.1 L877.0,571.4 L877.5,570.8 L878.1,570.1 L878.7,569.4 L879.2,568.7 L879.8,568.0 L880.4,567.4 L880.9,566.7 L881.5,566.0 L882.3,566.4 L883.1,566.8 L883.9,567.2 L884.7,567.6 L885.5,568.0 L886.1,567.3 L886.7,566.6 L887.2,565.8 L887.8,565.1 L888.4,564.4 L889.0,563.7 L889.6,563.0 L890.1,562.2 L890.7,561.5 L891.3,560.8 L891.9,560.1 L892.5,559.4 L893.1,558.7 L893.6,557.9 L894.2,557.2 L894.8,556.5 L895.4,555.9 L896.1,555.2 L896.7,554.5 L897.4,553.9 L898.0,553.2 L898.7,552.6 L899.3,552.0 L900.0,551.3 L900.6,550.6 L901.2,550.0 L901.9,549.4 L902.5,548.7 L903.2,548.0 L903.8,547.4 L904.5,546.8 L905.1,546.1 L905.8,545.5 L906.4,544.8 L907.1,544.1 L907.7,543.5 L908.2,542.8 L908.7,542.0 L909.2,541.3 L909.7,540.5 L910.2,539.8 L910.7,539.0 L911.2,538.3 L911.7,537.6 L912.2,536.8 L912.7,536.1 L913.2,535.3 L913.7,534.6 L914.2,533.9 L914.6,533.1 L915.1,532.4 L915.6,531.6 L916.1,530.9 L916.6,530.1 L917.1,529.4 L917.6,528.7 L918.1,527.9 L918.6,527.2 L919.1,526.4 L919.6,525.7 L920.1,524.9 L920.6,524.2 L921.0,523.4 L921.3,522.6 L921.7,521.8 L922.1,521.0 L922.4,520.2 L922.8,519.4 L923.2,518.6 L923.5,517.8 L923.9,517.0 L924.7,516.5 L925.5,516.0 L926.4,515.5 L927.2,515.0 L928.0,514.5 L928.4,513.7 L928.8,512.9 L929.3,512.1 L929.7,511.3 L930.1,510.5 L930.5,509.7 L931.0,508.9 L931.4,508.0 L931.8,507.2 L932.2,506.4 L932.7,505.6 L933.1,504.8 L933.5,504.0 L933.9,503.2 L934.4,502.4 L934.8,501.6 L935.2,500.8 L935.9,500.2 L936.5,499.6 L937.2,499.0 L937.9,498.3 L938.5,497.7 L939.2,497.2 L939.9,496.5 L940.5,495.9 L941.2,495.3 L941.9,494.8 L942.5,494.0 L943.2,493.5 L944.0,493.2 L944.9,493.0 L945.6,492.4 L946.4,492.1 L947.3,491.8 L948.1,491.4 L948.9,491.1 L949.7,490.8 L950.6,490.5 L951.3,490.1 L952.2,489.9 L953.0,489.6 L953.6,488.9 L954.2,488.3 L954.7,487.4 L955.3,486.6 L955.9,486.1 L956.5,485.4 L957.0,484.7 L957.5,483.8 L958.1,483.0 L958.6,482.2 L959.2,481.6 L959.7,480.8 L960.3,480.2 L960.9,479.5 L961.5,478.9 L962.1,478.3 L962.6,477.4 L963.0,476.5 L963.6,475.8 L964.2,475.2 L964.7,474.5 L965.2,473.7 L965.7,473.0 L966.1,472.0 L966.7,471.4 L967.3,470.7 L967.7,469.8 L968.2,468.9 L968.8,468.5 L969.2,467.4 L969.8,466.9 L970.2,466.0 L970.7,465.2 L971.3,464.5 L971.8,463.7 L972.3,463.0 L973.1,462.7 L973.7,462.1 L974.3,461.1 L974.9,460.5 L975.6,460.0 L976.2,459.0 L977.0,458.8 L977.5,457.9 L978.2,457.3 L978.7,456.3 L979.3,455.5 L980.0,454.9 L980.6,454.3 L981.4,454.1 L982.0,453.2 L982.7,452.8 L983.2,451.9 L983.8,451.0 L984.5,450.6 L985.1,449.9 L985.6,448.9 L986.3,448.6 L987.1,448.3 L987.6,447.3 L988.1,446.4 L988.7,445.7 L989.2,445.0 L989.9,444.5 L990.4,443.7 L991.1,443.3 L991.8,442.7 L992.5,442.4 L992.8,441.1 L993.3,440.1 L994.2,440.3 L994.8,439.5 L995.3,438.6 L995.9,438.1 L996.4,437.1 L997.0,436.5 L997.7,436.2 L998.2,435.3 L998.9,434.7 L999.5,434.1 L1000.1,433.4 L1000.6,432.6 L1001.3,432.1 L1002.0,431.7 L1002.6,431.1 L1002.9,429.9 L1003.6,429.5 L1003.9,428.1 L1004.4,427.4 L1005.1,427.1 L1005.7,426.6 L1006.3,426.1 L1006.5,424.6 L1007.2,424.5 L1007.6,423.4 L1008.1,422.7 L1008.8,422.2 L1009.4,421.8 L1009.7,420.5 L1010.1,419.4 L1010.7,419.0 L1011.3,418.4 L1012.0,418.1 L1012.4,417.2 L1012.9,416.3 L1013.3,415.5 L1013.9,414.7 L1014.5,414.4 L1014.8,413.0 L1015.4,412.5 L1015.9,411.7 L1016.6,411.5 L1017.0,410.6 L1017.4,409.7 L1018.1,409.3 L1018.7,408.9 L1019.2,408.0 L1019.4,406.6 L1020.0,406.1 L1020.6,405.7 L1020.8,404.3 L1021.3,403.6 L1021.9,403.1 L1022.5,402.7 L1022.9,401.6 L1023.5,401.1 L1024.0,400.3 L1024.5,399.7 L1024.9,398.6 L1025.2,397.5 L1025.7,396.8 L1026.5,396.6 L1027.1,396.3 L1027.6,395.5 L1027.9,394.2 L1028.4,393.3 L1029.0,393.0 L1029.5,392.2 L1029.9,391.2 L1030.6,390.7 L1031.1,390.0 L1031.7,389.5 L1032.3,389.0 L1032.8,388.2 L1033.3,387.5 L1033.9,386.9 L1034.3,386.0 L1034.8,385.2 L1035.3,384.5 L1036.0,384.2 L1036.4,383.1 L1037.0,382.7 L1037.7,382.2 L1038.2,381.6 L1038.4,379.8 L1039.1,379.5 L1039.7,379.1 L1040.1,378.0 L1040.6,377.1 L1041.1,376.2 L1041.7,375.6 L1042.3,375.1 L1042.6,373.9 L1043.3,373.6 L1043.8,372.7 L1044.4,372.2 L1044.9,371.2 L1045.5,370.7 L1046.1,370.1 L1046.5,369.1 L1047.1,368.4 L1047.8,368.1 L1048.3,367.3 L1048.7,366.2 L1049.3,365.7 L1049.7,364.6 L1050.3,364.0 L1050.6,362.6 L1051.3,362.4 L1052.0,362.1 L1052.5,361.2 L1053.2,360.7 L1053.7,359.7 L1054.3,359.2 L1054.8,358.4 L1055.3,357.4 L1056.2,357.5 L1056.5,356.2 L1057.0,355.2 L1057.7,354.8 L1058.3,354.3 L1058.9,353.5 L1059.4,352.7 L1060.0,352.0" fill="none" stroke="#ff7b08" stroke-width="4.2" stroke-linejoin="round" stroke-linecap="butt"/>
<path d="M790.7,637.6 L791.3,637.0 L791.9,636.3 L792.5,635.7 L793.2,635.0 L793.8,634.4 L794.4,633.8 L795.0,633.1 L795.6,632.5 L796.2,631.8 L796.9,631.2 L797.5,630.6 L798.1,629.9 L798.7,629.3 L799.3,628.6 L799.9,628.0 L800.5,627.4 L801.2,626.7 L801.8,626.1 L802.4,625.5 L803.0,624.8 L803.6,624.2 L804.2,623.5 L804.8,622.9 L805.5,622.3 L806.1,621.6 L806.7,621.0 L807.3,620.3 L807.9,619.7 L808.5,619.1 L809.2,618.4 L809.8,617.8 L810.4,617.1 L811.0,616.5 L811.6,615.9 L812.2,615.2 L812.9,614.6 L813.5,614.0 L814.1,613.3 L814.8,612.7 L815.4,612.1 L816.0,611.5 L816.6,610.8 L817.2,610.2 L817.9,609.6 L818.5,608.9 L819.1,608.3 L819.8,607.7 L820.4,607.0 L821.0,606.4 L821.6,605.8 L822.2,605.1 L822.9,604.5 L823.5,603.9 L824.1,603.2 L824.8,602.6 L825.4,602.0 L826.0,601.3 L826.6,600.7 L827.2,600.1 L827.9,599.5 L828.5,598.8 L829.1,598.2 L829.8,597.6 L830.4,596.9 L831.0,596.3 L831.7,595.8 L832.4,595.2 L833.1,594.7 L833.9,594.2 L834.6,593.7 L835.3,593.1 L836.0,592.6 L836.7,592.1 L837.4,591.6 L838.2,591.0 L838.9,590.5 L839.6,590.0 L840.3,589.5 L841.0,588.9 L841.7,588.4 L842.5,587.9 L843.2,587.4 L843.9,586.8 L844.6,586.3 L845.3,585.8 L846.0,585.3 L846.8,584.7 L847.5,584.2 L848.2,583.7 L848.9,583.2 L849.6,582.6 L850.3,582.1 L851.1,581.6 L851.8,581.1 L852.5,580.5 L853.2,580.0 L854.0,579.5 L854.7,579.0 L855.5,578.6 L856.3,578.1 L857.0,577.6 L857.8,577.1 L858.6,576.6 L859.3,576.1 L860.1,575.7 L860.9,575.2 L861.6,574.7 L862.4,574.2 L863.2,573.7 L863.9,573.2 L864.7,572.8 L865.4,572.3 L866.2,571.8 L867.0,571.3 L867.7,570.8 L868.5,570.3 L869.3,569.9 L870.0,569.4 L870.8,568.9 L871.6,568.4 L872.3,567.9 L873.1,567.4 L873.9,567.0 L874.6,566.5 L875.4,566.0 L876.2,565.6 L877.0,565.1 L877.8,564.7 L878.6,564.3 L879.4,563.8 L880.2,563.4 L881.1,563.0 L881.9,562.5 L882.7,562.1 L883.5,561.7 L884.3,561.2 L885.1,560.8 L885.9,560.4 L886.7,559.9 L887.5,559.5 L888.3,559.1 L889.1,558.6 L889.9,558.2 L890.8,557.8 L891.6,557.3 L892.4,556.9 L893.2,556.5 L894.0,556.0 L894.8,555.6 L895.2,554.8 L895.7,554.1 L896.1,553.3 L896.6,552.5 L897.0,551.8 L897.4,551.0 L897.9,550.2 L898.3,549.5 L898.8,548.7 L899.2,547.9 L899.6,547.2 L900.1,546.4 L900.5,545.6 L901.0,544.8 L901.4,544.1 L901.9,543.3 L902.3,542.5 L902.7,541.8 L903.2,541.0 L903.6,540.2 L904.1,539.5 L904.5,538.7 L905.2,538.3 L906.0,537.8 L906.7,537.4 L907.5,536.9 L908.2,536.5 L909.0,536.1 L909.7,535.6 L910.5,535.2 L911.2,534.8 L912.0,534.3 L912.7,533.9 L913.5,533.4 L914.2,533.0 L914.8,532.3 L915.4,531.6 L915.9,530.9 L916.5,530.2 L917.1,529.5 L917.7,528.8 L918.3,528.1 L918.9,527.4 L919.4,526.7 L920.0,526.0 L920.6,525.4 L921.2,524.7 L921.8,524.0 L922.3,523.3 L922.9,522.6 L923.5,521.9 L924.1,521.2 L924.7,520.5 L925.3,519.8 L925.8,519.1 L926.4,518.4 L927.0,517.7 L927.5,516.9 L928.0,516.2 L928.5,515.4 L929.0,514.6 L929.5,513.9 L929.9,513.1 L930.4,512.3 L930.9,511.6 L931.4,510.8 L931.9,510.1 L932.4,509.3 L932.9,508.5 L933.4,507.8 L933.8,507.0 L934.4,506.3 L934.8,505.5 L935.4,504.8 L935.8,504.0 L936.3,503.1 L936.8,502.5 L937.6,502.1 L938.4,501.8 L939.2,501.5 L939.9,501.1 L940.8,500.9 L941.6,500.6 L942.4,500.3 L943.2,499.9 L943.6,499.3 L944.0,498.4 L944.4,497.7 L944.8,497.0 L945.1,496.1 L945.5,495.2 L945.9,494.4 L946.2,493.5 L946.6,492.7 L947.1,492.0 L947.4,491.1 L947.7,490.1 L948.1,489.4 L948.6,488.7 L949.0,488.1 L949.3,487.1 L949.7,486.2 L950.5,485.8 L951.3,485.4 L952.1,484.9 L952.9,484.4 L953.7,484.0 L954.5,483.4 L955.4,483.2 L955.7,482.3 L956.1,481.5 L956.4,480.6 L956.7,479.5 L957.2,479.0 L957.5,478.2 L958.0,477.6 L958.4,476.9 L958.7,475.9 L959.0,475.0 L959.3,474.0 L959.9,473.5 L960.5,472.9 L961.0,472.0 L961.4,471.2 L962.2,471.0 L962.5,469.9 L963.3,469.7 L963.8,469.0 L964.4,468.4 L964.7,467.1 L965.3,466.7 L965.7,465.5 L966.3,465.0 L966.7,464.0 L967.3,463.5 L967.8,462.8 L968.4,462.5 L968.9,461.9 L969.2,460.8 L969.6,460.0 L970.0,459.0 L970.4,458.2 L970.8,457.3 L971.4,456.9 L971.9,456.5 L972.2,455.4 L973.0,455.1 L973.5,454.0 L974.1,453.4 L974.9,452.9 L975.7,452.7 L976.2,451.7 L977.0,451.4 L977.6,450.5 L978.1,449.5 L978.6,448.5 L979.4,448.3 L980.1,447.6 L981.0,447.6 L981.6,446.9 L982.0,445.6 L982.9,445.7 L983.6,445.1 L983.7,443.2 L984.5,442.9 L985.3,442.8 L985.7,441.6 L986.4,441.1 L987.2,441.0 L987.8,440.3 L988.4,439.8 L989.0,439.2 L989.4,437.9 L990.5,438.5 L990.9,437.3 L991.7,437.2 L991.9,435.7 L992.6,435.2 L993.2,434.5 L993.7,433.6 L994.4,433.1 L995.0,432.4 L995.7,432.0 L996.2,431.2 L996.7,430.4 L997.4,429.9 L998.2,429.7 L998.6,428.5 L999.2,428.0 L999.8,427.2 L1000.0,425.5 L1000.6,425.0 L1001.1,424.4 L1001.6,423.4 L1002.3,423.0 L1002.6,421.8 L1003.5,421.9 L1003.9,420.9 L1004.7,420.9 L1005.2,420.0 L1005.4,418.5 L1006.1,418.1 L1006.7,417.5 L1007.1,416.5 L1007.7,415.8 L1008.1,414.8 L1008.7,414.2 L1009.4,413.9 L1009.9,413.0 L1010.6,412.8 L1010.7,410.9 L1011.4,410.4 L1012.0,409.9 L1012.8,410.0 L1013.3,409.3 L1013.8,408.4 L1014.3,407.7 L1015.0,407.2 L1015.3,406.2 L1015.7,405.0 L1016.2,404.4 L1016.6,403.3 L1017.2,402.7 L1017.8,402.2 L1018.2,401.2 L1018.8,400.6 L1019.2,399.7 L1019.6,398.6 L1020.0,397.7 L1020.9,397.8 L1021.4,397.0 L1022.0,396.5 L1022.4,395.5 L1022.9,394.7 L1023.4,394.1 L1023.9,393.1 L1024.7,393.0 L1025.2,392.3 L1025.7,391.3 L1026.0,390.0 L1026.6,389.3 L1027.3,388.9 L1028.1,388.6 L1028.5,387.5 L1029.0,386.7 L1029.6,386.2 L1030.2,385.3 L1030.7,384.5 L1031.1,383.3 L1032.0,383.5 L1032.4,382.4 L1032.9,381.4 L1033.5,380.8 L1033.9,379.6 L1034.3,378.7 L1034.9,377.8 L1035.7,378.0 L1036.1,376.7 L1036.8,376.5 L1037.2,375.4 L1037.6,374.3 L1038.3,374.0 L1038.8,373.3 L1039.4,372.6 L1040.3,372.9 L1040.7,371.8 L1041.0,370.7 L1041.8,370.4 L1042.2,369.4 L1042.9,369.2 L1043.1,367.5 L1043.9,367.6 L1044.2,366.2 L1044.7,365.5 L1045.4,365.1 L1045.8,364.0 L1046.2,362.9 L1046.9,362.7 L1047.5,362.1 L1047.8,360.9 L1048.7,361.1 L1049.1,359.8 L1049.6,359.1 L1050.2,358.6 L1050.9,358.1 L1051.6,357.8 L1051.7,356.0 L1052.6,355.9 L1053.3,355.8 L1053.9,354.9 L1054.4,354.1 L1054.8,353.0 L1055.6,352.8 L1056.1,351.9 L1056.7,351.5 L1057.2,350.4 L1057.8,349.9 L1058.5,349.3 L1058.8,348.2 L1059.8,348.4 L1060.3,347.5 L1060.6,346.3 L1061.3,345.9 L1062.0,345.5 L1062.5,344.7 L1063.0,343.7 L1063.7,343.3 L1064.1,342.2 L1064.6,341.3 L1065.6,341.7 L1066.3,341.5 L1066.9,340.9 L1067.6,340.4 L1068.0,339.4 L1068.2,337.8 L1068.8,337.0 L1069.6,337.0 L1070.0,335.8 L1070.5,335.1 L1071.1,334.5 L1071.8,334.0 L1072.1,332.7 L1072.8,332.4 L1073.4,331.9 L1073.6,330.3 L1074.6,330.6 L1075.1,330.0 L1075.4,328.6 L1076.3,328.9 L1076.7,327.8 L1077.2,327.0 L1078.0,326.7 L1077.9,324.4 L1078.7,324.4 L1079.5,324.3 L1080.1,323.8 L1080.4,322.6 L1080.9,321.7 L1081.3,320.7 L1081.9,320.1 L1082.6,319.4 L1083.2,318.3 L1084.2,318.5 L1085.0,317.9 L1085.9,317.6 L1086.7,317.2 L1087.5,316.8 L1088.4,316.6 L1089.2,316.1 L1089.9,315.5 L1090.7,314.9 L1091.6,314.6 L1092.1,313.9 L1092.7,313.2 L1093.5,313.2 L1094.0,312.1 L1094.4,311.1 L1094.7,309.7 L1095.4,309.1 L1095.7,307.8 L1096.8,308.6 L1097.6,308.2 L1097.9,307.0 L1098.5,306.2 L1099.2,305.8 L1099.8,305.3 L1100.2,303.8 L1101.1,303.6 L1101.9,303.1 L1102.5,302.2 L1103.6,302.7 L1104.3,302.0 L1104.9,300.9 L1105.6,300.5 L1106.3,299.7 L1107.1,299.1 L1107.8,298.6 L1108.8,298.6 L1109.4,297.8 L1109.9,296.8 L1110.4,295.9 L1111.1,295.6 L1111.5,294.5 L1111.9,293.4 L1112.7,293.1 L1113.6,293.2 L1113.8,291.7 L1114.5,291.2 L1115.0,290.4 L1115.7,290.2 L1116.2,289.3 L1116.5,287.8 L1117.5,288.2 L1117.8,287.0 L1118.2,285.8 L1118.8,285.1 L1119.5,284.6 L1120.2,284.4 L1120.6,283.2 L1121.0,282.1 L1121.8,282.2 L1122.4,281.7 L1122.6,280.2 L1123.1,279.5 L1123.6,278.9 L1124.0,277.9 L1124.4,276.8 L1125.2,276.8 L1125.4,275.4 L1125.7,274.2 L1126.5,274.3 L1127.2,274.0 L1127.7,273.2 L1128.0,271.9" fill="none" stroke="#22a128" stroke-width="4.2" stroke-linejoin="round" stroke-linecap="butt"/>
<path d="M859.3,596.3 L860.0,595.7 L860.6,595.1 L861.3,594.5 L861.9,593.9 L862.6,593.2 L863.3,592.6 L863.9,592.0 L864.6,591.4 L865.3,590.8 L865.9,590.2 L866.6,589.6 L867.2,589.0 L867.9,588.4 L868.6,587.7 L869.2,587.1 L869.9,586.5 L870.5,585.9 L871.2,585.3 L871.9,584.7 L872.5,584.1 L873.2,583.5 L873.8,582.8 L874.5,582.2 L875.2,581.6 L875.8,581.0 L876.5,580.4 L877.2,579.8 L877.8,579.2 L878.5,578.6 L879.1,578.0 L879.8,577.3 L880.5,576.7 L881.1,576.1 L881.8,575.5 L882.4,574.9 L883.1,574.3 L883.8,573.7 L884.4,573.1 L885.1,572.5 L885.8,571.8 L886.4,571.2 L887.1,570.6 L887.7,570.0 L888.4,569.4 L889.1,568.9 L889.8,568.3 L890.5,567.8 L891.3,567.2 L892.0,566.7 L892.7,566.2 L893.4,565.6 L894.1,565.1 L894.8,564.5 L895.6,564.0 L896.3,563.5 L897.0,562.9 L897.7,562.4 L898.4,561.9 L899.1,561.3 L899.9,560.8 L900.6,560.2 L901.3,559.7 L901.8,559.0 L902.4,558.2 L902.9,557.5 L903.4,556.8 L904.0,556.0 L904.5,555.3 L905.1,554.5 L905.6,553.8 L906.1,553.1 L906.7,552.3 L907.2,551.6 L907.8,550.9 L908.3,550.1 L908.8,549.4 L909.4,548.6 L909.9,547.9 L910.4,547.2 L911.0,546.4 L911.5,545.7 L912.1,545.0 L912.6,544.2 L913.1,543.5 L913.7,542.7 L914.2,542.0 L914.7,541.3 L915.2,540.5 L915.7,539.8 L916.2,539.0 L916.8,538.3 L917.3,537.5 L917.8,536.8 L918.3,536.0 L918.8,535.3 L919.3,534.6 L919.8,533.8 L920.3,533.1 L920.9,532.3 L921.4,531.6 L921.9,530.8 L922.4,530.1 L922.9,529.4 L923.4,528.6 L923.9,527.9 L924.4,527.1 L925.0,526.4 L925.5,525.6 L926.0,524.9 L926.5,524.1 L927.0,523.4 L927.6,522.7 L928.2,522.0 L928.8,521.4 L929.3,520.7 L929.9,520.0 L930.5,519.3 L931.1,518.7 L931.7,518.0 L932.3,517.3 L932.8,516.6 L933.4,516.0 L934.0,515.3 L934.6,514.6 L935.2,513.9 L935.8,513.3 L936.3,512.6 L936.9,511.9 L937.5,511.2 L938.1,510.6 L938.7,509.9 L939.3,509.2 L939.8,508.5 L940.4,507.9 L941.0,507.2 L941.6,506.5 L942.3,505.9 L943.0,505.4 L943.8,504.8 L944.5,504.2 L945.2,503.7 L945.9,503.1 L946.6,502.5 L947.4,502.0 L948.1,501.4 L948.8,500.9 L949.5,500.3 L950.2,499.7 L951.0,499.2 L951.7,498.6 L952.4,498.0 L953.1,497.5 L953.8,496.9 L954.6,496.3 L955.3,495.8 L956.0,495.2 L956.7,494.6 L957.4,494.0 L958.1,493.4 L958.8,492.8 L959.5,492.2 L960.2,491.6 L960.9,491.1 L961.7,490.5 L962.4,489.8 L963.1,489.3 L963.8,488.7 L964.5,488.1 L965.2,487.5 L965.9,486.9 L966.6,486.3 L967.0,485.5 L967.4,484.7 L967.7,483.8 L968.1,483.1 L968.5,482.2 L968.9,481.5 L969.3,480.6 L969.7,480.0 L970.1,479.1 L970.5,478.3 L970.8,477.5 L971.2,476.6 L971.6,475.9 L972.0,475.0 L972.4,474.3 L972.8,473.4 L973.2,472.7 L973.5,471.8 L973.9,470.9 L974.5,470.3 L974.9,469.4 L975.6,468.9 L976.1,468.0 L976.6,467.3 L977.2,466.6 L977.7,465.7 L978.2,464.9 L978.7,464.0 L979.2,463.3 L979.8,462.6 L980.3,461.8 L980.9,461.2 L981.5,460.6 L982.0,459.8 L982.5,458.9 L983.1,458.2 L983.7,457.4 L984.4,457.0 L985.0,456.3 L985.5,455.5 L986.1,454.8 L986.7,454.2 L987.3,453.5 L987.9,452.7 L988.4,451.9 L989.1,451.4 L989.7,450.8 L990.3,450.1 L990.9,449.3 L991.5,448.7 L992.1,448.0 L992.6,447.1 L993.3,446.7 L993.8,446.0 L994.3,445.1 L994.9,444.3 L995.4,443.5 L995.9,442.6 L996.5,441.9 L997.0,441.1 L997.7,440.5 L998.3,440.0 L998.8,439.2 L999.3,438.3 L999.9,437.7 L1000.5,436.9 L1001.0,436.1 L1001.7,435.8 L1002.2,434.7 L1002.9,434.3 L1003.3,433.2 L1003.9,432.7 L1004.4,431.9 L1005.1,431.4 L1005.6,430.7 L1006.1,429.7 L1006.7,429.2 L1007.3,428.7 L1007.9,428.0 L1008.5,427.3 L1008.9,426.2 L1009.6,426.0 L1010.2,425.1 L1011.0,424.7 L1011.7,423.9 L1012.6,423.8 L1013.3,423.1 L1014.2,423.1 L1014.8,422.3 L1015.9,422.7 L1016.3,421.8 L1016.8,421.1 L1017.2,420.3 L1017.4,419.2 L1017.9,418.4 L1018.2,417.5 L1018.4,416.2 L1018.8,415.4 L1019.3,414.8 L1019.9,414.4 L1020.1,413.1 L1020.6,412.6 L1021.1,411.7 L1021.7,411.3 L1022.3,410.7 L1022.7,409.5 L1023.2,408.7 L1024.0,408.6 L1024.5,407.9 L1024.9,406.9 L1025.5,406.4 L1026.0,405.5 L1026.6,404.9 L1027.0,403.9 L1027.7,403.4 L1028.3,403.0 L1028.9,402.3 L1029.4,401.6 L1029.8,400.5 L1030.4,400.0 L1030.8,398.9 L1031.3,398.2 L1031.9,397.6 L1032.3,396.6 L1033.0,396.1 L1033.4,394.9 L1034.2,395.0 L1034.7,394.3 L1035.2,393.4 L1035.6,392.4 L1036.2,391.6 L1036.7,391.0 L1037.1,389.9 L1037.8,389.5 L1038.3,388.7 L1039.0,388.4 L1039.6,387.9 L1040.2,387.3 L1040.4,385.8 L1040.9,384.9 L1041.7,384.8 L1042.2,384.1 L1042.8,383.4 L1043.3,382.5 L1043.8,381.6 L1044.5,381.4 L1044.9,380.4 L1045.4,379.5 L1045.8,378.3 L1046.4,377.8 L1047.1,377.4 L1047.6,376.5 L1048.1,375.8 L1048.3,374.7 L1048.7,374.0 L1049.0,372.8 L1049.3,372.0 L1049.8,371.5 L1050.2,370.9 L1050.3,369.5 L1050.6,368.6 L1051.0,367.7 L1051.3,366.8 L1051.7,366.0 L1052.1,365.4 L1052.4,364.5 L1052.7,363.5 L1053.1,362.7 L1053.5,361.5 L1054.2,361.2 L1055.1,361.1 L1055.5,359.8 L1056.1,359.1 L1056.9,358.7 L1057.6,358.3 L1058.1,357.3 L1058.7,356.4 L1059.5,356.4 L1060.1,355.1 L1061.0,355.0 L1062.0,354.7 L1062.7,354.0 L1063.9,354.6 L1065.0,354.6 L1065.5,353.4 L1066.4,353.2 L1067.4,352.9 L1068.1,352.5 L1068.6,351.7 L1069.3,351.3 L1069.9,350.7 L1070.5,349.9 L1071.1,349.3 L1071.8,349.0 L1072.4,348.1 L1073.2,347.8 L1073.9,347.2 L1074.8,346.9 L1075.7,346.7 L1076.3,345.9 L1077.1,345.3 L1077.8,344.7 L1078.8,344.7 L1079.1,343.6 L1079.7,343.1 L1080.4,342.9 L1080.6,341.6 L1081.2,341.2 L1081.5,340.0 L1081.9,339.1 L1082.5,338.5 L1082.8,337.4 L1083.1,336.1 L1083.7,335.9 L1084.2,335.1 L1084.7,334.5 L1085.4,334.3 L1085.7,333.3 L1086.0,331.9 L1086.6,331.5 L1086.8,330.2 L1087.2,329.3 L1088.1,329.6 L1088.3,328.2 L1088.8,327.2 L1089.7,327.1 L1090.4,326.6 L1091.1,326.2 L1091.7,325.5 L1092.4,324.9 L1093.1,324.6 L1093.7,323.8 L1094.3,323.1 L1095.1,322.8 L1095.7,322.0 L1096.5,321.8 L1097.1,321.1 L1097.7,320.4 L1098.3,319.7 L1099.1,319.4 L1099.8,319.0 L1100.1,317.9 L1100.2,316.5 L1100.8,316.4 L1101.1,315.3 L1101.6,314.8 L1101.8,313.7 L1102.3,313.2 L1102.6,312.2 L1102.9,311.2 L1103.2,310.3 L1103.7,309.8 L1104.1,309.1 L1104.3,307.8 L1104.5,306.7 L1105.1,306.6 L1105.7,306.4 L1105.8,304.9 L1106.2,304.1 L1106.5,303.1 L1106.8,302.2 L1107.5,302.1 L1107.6,300.6 L1108.1,300.2 L1108.5,299.3 L1109.0,298.8 L1109.6,298.4 L1109.9,297.3 L1110.2,296.3 L1110.8,295.9 L1111.1,294.8 L1111.3,293.5 L1112.0,293.5 L1112.3,292.4 L1112.8,291.8 L1113.4,291.6 L1113.8,290.6 L1114.1,289.6 L1114.6,289.1 L1114.8,287.7 L1115.1,286.6 L1115.6,285.9 L1116.1,285.5 L1116.6,284.8 L1116.9,283.8 L1117.6,283.8 L1118.0,282.8 L1118.4,281.8 L1118.8,280.8 L1119.4,280.2 L1119.9,279.5 L1120.4,278.6 L1121.2,278.8 L1121.6,277.9 L1122.0,276.8 L1122.4,275.8 L1122.7,274.5 L1123.5,274.5 L1123.8,273.4 L1124.4,273.0 L1124.8,272.1 L1125.0,270.8 L1125.5,270.2 L1125.9,269.4 L1126.3,268.6 L1126.7,267.8 L1127.2,267.1 L1127.5,266.2 L1128.0,265.7 L1128.4,264.9 L1128.8,263.8 L1129.2,263.0 L1129.5,262.1 L1129.9,261.3 L1130.4,260.6 L1130.8,259.9 L1131.2,258.9 L1131.4,257.7 L1132.0,257.3 L1132.3,256.4 L1132.8,255.8 L1133.5,255.8 L1133.9,254.8 L1133.9,253.0 L1134.3,252.2 L1135.1,252.2 L1135.3,251.1 L1135.7,250.1 L1136.0,249.2 L1136.6,248.9 L1137.0,248.0 L1137.5,247.5 L1137.9,246.7 L1138.4,246.0 L1139.2,245.4 L1139.9,244.8 L1140.9,244.7 L1141.8,244.5 L1142.3,243.4 L1143.2,242.9 L1144.2,243.0 L1144.7,241.8 L1145.2,241.0 L1145.9,240.7 L1146.5,240.2 L1147.0,239.3 L1147.6,238.8 L1148.0,237.8 L1148.6,237.2 L1149.1,236.4 L1149.6,235.8 L1150.1,235.0 L1150.8,234.7 L1151.3,233.9 L1151.9,233.4 L1152.3,232.3 L1152.7,231.3 L1153.3,230.6 L1153.8,230.0 L1154.4,229.5 L1154.8,228.5 L1155.3,227.9 L1155.8,227.2 L1156.1,226.0 L1156.5,225.1 L1157.2,225.1 L1157.5,223.9 L1158.2,223.7 L1158.5,222.5 L1158.8,221.3 L1159.2,220.5 L1159.7,219.9 L1160.5,220.0 L1160.6,218.2 L1160.9,217.1 L1161.5,216.7 L1162.1,216.2 L1162.8,216.1 L1163.2,215.1 L1163.4,213.8 L1164.1,213.6 L1164.7,213.0 L1165.1,211.8 L1165.8,211.4 L1166.4,210.7 L1166.9,209.9 L1167.5,209.1 L1168.0,208.4 L1168.7,208.0 L1169.3,207.2 L1170.0,206.9 L1170.6,206.2 L1170.9,204.9 L1171.7,204.7 L1172.3,204.0 L1173.0,203.6 L1173.5,202.6 L1174.4,202.5 L1175.1,201.9 L1175.9,201.4 L1176.6,200.7 L1177.1,199.6 L1177.9,199.3 L1178.8,199.1 L1179.6,198.6 L1180.3,197.9 L1181.0,197.2 L1181.7,196.6 L1182.3,195.7 L1183.0,194.9 L1183.8,194.8 L1184.6,194.6 L1185.2,193.8 L1185.8,193.2 L1186.5,192.7 L1187.4,192.6 L1187.9,191.6 L1188.6,191.1 L1189.3,190.7 L1190.1,190.4 L1190.7,189.7 L1191.3,188.9 L1192.0,188.3 L1192.6,187.5 L1193.4,187.2 L1194.3,187.0 L1194.9,186.3 L1195.6,185.5 L1196.2,184.8 L1197.0,184.4 L1197.9,184.1 L1198.5,183.5" fill="none" stroke="#de1f24" stroke-width="4.2" stroke-linejoin="round" stroke-linecap="butt"/>
<path d="M927.9,561.3 L928.4,560.6 L928.9,559.8 L929.5,559.1 L930.0,558.4 L930.5,557.6 L931.0,556.9 L931.5,556.2 L932.1,555.5 L932.6,554.7 L933.1,554.0 L933.6,553.3 L934.1,552.5 L934.7,551.8 L935.2,551.1 L935.7,550.3 L936.2,549.6 L936.7,548.9 L937.3,548.2 L937.8,547.4 L938.3,546.7 L938.8,546.0 L939.3,545.2 L939.9,544.5 L940.4,543.8 L940.9,543.0 L941.4,542.3 L941.9,541.6 L942.5,540.8 L943.0,540.1 L943.5,539.4 L944.0,538.7 L944.5,537.9 L945.1,537.2 L945.6,536.5 L946.1,535.7 L946.6,535.0 L947.2,534.3 L947.7,533.5 L948.2,532.8 L948.7,532.1 L949.2,531.4 L949.8,530.6 L950.3,529.9 L950.8,529.2 L951.3,528.4 L951.8,527.7 L952.4,527.0 L952.9,526.2 L953.4,525.5 L953.9,524.8 L954.4,524.0 L955.0,523.3 L955.5,522.6 L956.0,521.9 L956.5,521.1 L957.0,520.4 L957.6,519.7 L958.1,518.9 L958.6,518.2 L959.1,517.5 L959.6,516.7 L960.2,516.0 L960.7,515.3 L961.2,514.6 L961.7,513.8 L962.2,513.1 L962.8,512.4 L963.3,511.6 L963.8,510.9 L964.3,510.2 L964.8,509.4 L965.4,508.7 L965.9,508.0 L966.4,507.2 L966.9,506.5 L967.4,505.8 L968.0,505.1 L968.5,504.3 L969.0,503.6 L969.5,502.9 L970.0,502.1 L970.6,501.4 L971.1,500.7 L971.6,499.9 L972.1,499.2 L972.6,498.5 L973.2,497.8 L973.7,497.0 L974.2,496.3 L974.7,495.6 L975.2,494.8 L975.8,494.1 L976.3,493.4 L976.8,492.6 L977.3,491.9 L977.8,491.2 L978.4,490.4 L978.9,489.7 L979.4,489.0 L979.9,488.3 L980.4,487.5 L981.0,486.8 L981.5,486.1 L982.0,485.3 L982.5,484.6 L983.1,483.9 L983.6,483.1 L984.1,482.4 L984.6,481.7 L985.1,481.0 L985.7,480.2 L986.2,479.5 L986.7,478.8 L987.2,478.0 L987.7,477.3 L988.3,476.6 L988.8,475.8 L989.3,475.1 L989.8,474.4 L990.3,473.6 L990.9,472.9 L991.4,472.2 L991.9,471.5 L992.4,470.7 L992.9,470.0 L993.5,469.3 L994.0,468.5 L994.5,467.8 L995.0,467.1 L995.5,466.3 L996.1,465.6 L996.6,464.9 L997.1,464.2 L997.6,463.4 L998.1,462.7 L998.7,462.0 L999.2,461.2 L999.7,460.5 L1000.3,459.8 L1000.8,459.1 L1001.4,458.4 L1001.9,457.7 L1002.4,456.9 L1003.0,456.2 L1003.5,455.5 L1004.1,454.8 L1004.6,454.1 L1005.2,453.4 L1005.8,452.7 L1006.3,452.0 L1006.8,451.3 L1007.4,450.5 L1007.9,449.8 L1008.5,449.2 L1009.1,448.5 L1009.6,447.7 L1010.1,447.0 L1010.7,446.4 L1011.2,445.5 L1011.8,444.8 L1012.3,444.1 L1012.9,443.4 L1013.5,442.8 L1014.0,442.0 L1014.6,441.5 L1015.2,440.7 L1015.7,440.0 L1016.2,439.2 L1016.7,438.4 L1017.3,437.8 L1017.9,437.1 L1018.4,436.4 L1019.0,435.7 L1019.5,435.0 L1020.0,434.1 L1020.5,433.3 L1021.2,432.8 L1021.9,432.2 L1022.6,431.6 L1023.2,430.9 L1023.8,430.3 L1024.4,429.6 L1025.1,429.0 L1025.8,428.4 L1026.4,427.6 L1027.0,426.9 L1027.7,426.3 L1028.3,425.6 L1029.0,425.1 L1029.6,424.3 L1030.3,423.8 L1030.9,423.1 L1031.6,422.6 L1032.3,422.2 L1032.8,421.2 L1033.5,420.6 L1034.4,420.4 L1035.1,419.8 L1035.8,419.2 L1036.5,418.7 L1037.3,418.2 L1037.9,417.5 L1038.6,416.8 L1039.5,416.6 L1040.2,416.1 L1041.1,415.9 L1041.8,415.4 L1042.5,414.6 L1043.3,414.4 L1044.0,413.7 L1044.9,413.5 L1045.2,412.5 L1045.8,412.0 L1046.2,411.2 L1046.6,410.3 L1047.2,409.8 L1047.6,408.9 L1047.9,407.7 L1048.6,407.3 L1049.0,406.4 L1049.5,405.7 L1050.0,405.1 L1050.5,404.5 L1050.9,403.6 L1051.3,402.6 L1051.8,401.9 L1052.2,401.1 L1052.8,400.5 L1053.2,399.6 L1053.8,399.2 L1054.2,398.2 L1054.7,397.7 L1055.3,397.1 L1055.7,396.2 L1056.1,395.3 L1056.7,394.7 L1057.0,393.6 L1057.5,393.0 L1058.1,392.5 L1058.5,391.7 L1058.9,390.7 L1059.4,389.9 L1059.8,389.1 L1060.4,388.7 L1060.9,388.1 L1061.4,387.3 L1061.7,386.2 L1062.2,385.5 L1062.5,384.5 L1062.9,383.6 L1063.5,383.2 L1064.0,382.5 L1064.3,381.3 L1064.8,380.5 L1065.3,380.0 L1065.7,379.0 L1066.3,378.6 L1066.8,378.0 L1067.1,376.8 L1067.6,376.1 L1068.1,375.6 L1068.6,374.9 L1069.0,373.9 L1069.5,373.1 L1070.0,372.4 L1070.6,371.8 L1071.1,371.2 L1071.6,370.3 L1072.1,369.5 L1072.6,368.8 L1073.1,368.1 L1073.6,367.3 L1074.1,366.4 L1074.7,366.0 L1075.3,365.4 L1075.8,364.6 L1076.4,364.1 L1076.8,363.3 L1077.4,362.6 L1077.9,361.9 L1078.2,360.6 L1078.9,360.3 L1079.5,359.8 L1079.8,358.6 L1080.3,357.7 L1080.8,357.1 L1081.4,356.6 L1082.0,356.0 L1082.5,355.0 L1083.2,354.6 L1083.7,353.9 L1084.4,353.5 L1085.1,352.9 L1085.7,352.3 L1086.3,351.6 L1086.9,350.9 L1087.6,350.6 L1088.1,349.6 L1088.7,349.2 L1089.3,348.5 L1090.0,347.9 L1090.4,347.0 L1091.0,346.6 L1091.5,345.9 L1091.8,344.8 L1092.5,344.5 L1092.8,343.4 L1093.4,342.8 L1093.6,341.6 L1094.1,340.8 L1094.5,340.0 L1095.2,339.8 L1095.6,338.9 L1096.0,337.8 L1096.5,337.1 L1096.9,336.2 L1097.4,335.5 L1097.8,334.5 L1098.4,334.1 L1098.8,333.2 L1099.2,332.2 L1099.7,331.6 L1100.3,331.0 L1100.7,330.2 L1101.2,329.3 L1101.8,328.7 L1102.3,328.0 L1102.9,327.5 L1103.2,326.3 L1103.7,325.6 L1104.2,324.8 L1104.7,323.9 L1105.2,323.3 L1105.6,322.2 L1106.1,321.5 L1106.6,320.7 L1107.2,320.2 L1107.7,319.4 L1108.2,318.5 L1108.7,317.8 L1109.3,317.3 L1109.7,316.4 L1110.0,315.2 L1110.9,315.3 L1111.3,314.2 L1111.8,313.6 L1112.2,312.5 L1112.7,311.8 L1113.3,311.2 L1113.8,310.5 L1114.2,309.6 L1114.9,309.2 L1115.3,308.1 L1115.8,307.3 L1116.4,307.0 L1116.8,305.9 L1117.1,304.7 L1117.7,304.3 L1118.2,303.6 L1118.7,303.0 L1119.2,302.4 L1119.6,301.3 L1120.1,300.6 L1120.5,299.6 L1120.9,298.6 L1121.3,297.8 L1121.8,297.0 L1122.2,296.1 L1122.9,295.9 L1123.2,294.8 L1123.6,293.8 L1124.2,293.3 L1124.6,292.3 L1125.2,291.9 L1125.8,291.4 L1126.2,290.4 L1126.6,289.4 L1127.0,288.6 L1127.5,288.0 L1128.0,287.3 L1128.5,286.6 L1128.9,285.5 L1129.4,284.8 L1129.7,283.7 L1130.3,283.2 L1130.8,282.6 L1131.3,281.9 L1131.6,280.7 L1131.9,279.7 L1132.7,279.6 L1133.0,278.6 L1133.4,277.7 L1133.9,277.0 L1134.3,276.1 L1134.8,275.5 L1135.2,274.8 L1135.6,273.7 L1136.0,272.7 L1136.5,272.1 L1136.7,270.8 L1137.4,270.8 L1137.8,269.8 L1138.2,268.9 L1138.8,268.4 L1139.2,267.7 L1139.6,266.8 L1140.0,265.8 L1140.4,264.9 L1140.9,264.2 L1141.3,263.5 L1141.7,262.6 L1142.3,262.0 L1142.8,261.4 L1143.2,260.5 L1143.8,260.2 L1144.2,259.2 L1144.6,258.4 L1145.4,258.3 L1145.7,257.3 L1146.0,256.1 L1146.5,255.3 L1146.9,254.4 L1147.4,253.7 L1147.9,252.9 L1148.2,251.9 L1148.7,251.1 L1149.3,250.7 L1149.9,250.2 L1150.2,249.2 L1150.6,248.1 L1151.0,247.3 L1151.7,247.0 L1152.2,246.5 L1152.7,245.6 L1153.0,244.5 L1153.4,243.6 L1154.0,243.1 L1154.3,242.1 L1154.7,241.1 L1155.0,240.0 L1155.6,239.5 L1156.1,238.8 L1156.5,237.9 L1157.1,237.6 L1157.4,236.4 L1158.0,236.0 L1158.4,235.0 L1158.8,234.1 L1159.3,233.5 L1159.6,232.4 L1160.2,232.0 L1160.6,230.9 L1161.0,230.1 L1161.5,229.5 L1162.1,228.7 L1162.6,227.8 L1163.3,227.4 L1163.8,226.4 L1164.4,225.8 L1164.9,224.9 L1165.6,224.3 L1166.2,223.8 L1166.7,222.9 L1167.3,222.0 L1168.0,221.7 L1168.6,220.9 L1169.0,219.9 L1169.6,219.2 L1170.2,218.5 L1171.0,218.4 L1171.5,217.4 L1172.1,216.8 L1172.6,216.0 L1173.1,215.2 L1173.6,214.4 L1173.9,213.1 L1174.5,212.7 L1175.1,212.1 L1175.5,211.2 L1176.2,210.9 L1176.6,209.9 L1177.1,209.1 L1177.4,207.9 L1178.2,207.8 L1178.7,207.2 L1179.0,205.9 L1179.5,205.1 L1180.2,204.8 L1180.6,203.7 L1181.2,203.2 L1181.6,202.4 L1182.3,202.0 L1182.7,201.1 L1183.2,200.4 L1183.7,199.5 L1184.0,198.3 L1184.6,197.9 L1185.2,197.4 L1185.6,196.4 L1186.1,195.7 L1186.5,194.9 L1187.0,194.2 L1187.5,193.4 L1188.0,192.8 L1188.3,191.6 L1188.7,190.6 L1189.4,190.3 L1189.8,189.4 L1190.3,188.7 L1190.9,188.2 L1191.2,187.1 L1191.9,186.7 L1192.2,185.6 L1192.5,184.4 L1193.1,184.0 L1193.6,183.3 L1194.1,182.5 L1194.6,181.7 L1195.2,181.4 L1195.7,180.6 L1196.1,179.7 L1196.6,178.7 L1197.3,178.0 L1197.9,177.5 L1198.7,177.0 L1199.1,175.8 L1199.9,175.6 L1200.5,175.0 L1201.1,174.2 L1201.7,173.5 L1202.3,172.6 L1202.9,171.9 L1203.7,171.6 L1204.3,170.8 L1205.0,170.3 L1205.6,169.5 L1206.1,168.6 L1206.8,168.2 L1207.6,167.7 L1208.3,167.2 L1209.0,166.5 L1209.5,165.5 L1210.4,165.3 L1211.0,164.4 L1211.9,164.5 L1212.5,163.6 L1213.2,162.9 L1214.1,162.8 L1214.8,162.3 L1215.5,161.7 L1216.0,162.7 L1216.3,163.2 L1216.8,164.2 L1217.2,165.0 L1217.6,165.8 L1218.1,166.6 L1218.3,165.8 L1218.3,164.4 L1218.6,163.7 L1218.9,162.9 L1219.1,161.9 L1219.4,161.3 L1219.6,160.2 L1219.7,159.1 L1220.1,158.6 L1220.2,157.4 L1220.6,158.2 L1220.9,159.1 L1221.3,159.9 L1221.7,160.8 L1222.1,161.8 L1222.3,162.3 L1222.7,163.2 L1223.1,162.3 L1223.5,161.6 L1223.9,160.6 L1224.4,160.1 L1224.7,159.1 L1225.1,158.3 L1225.5,157.5 L1225.9,156.6 L1226.4,156.1 L1226.8,155.2 L1227.1,154.1 L1227.7,153.7 L1228.2,153.1 L1228.5,151.9 L1229.0,151.3 L1229.3,150.2 L1229.7,149.5 L1230.2,148.9 L1230.5,147.7 L1230.9,146.8 L1231.4,146.1 L1231.9,145.5 L1232.3,144.8 L1232.7,143.8 L1233.1,143.0 L1233.7,142.6 L1234.0,141.5 L1234.3,140.3 L1234.8,139.8 L1235.5,139.3 L1236.4,139.1 L1237.2,138.8 L1238.1,138.9 L1239.1,138.9 L1239.8,138.6 L1240.4,137.7 L1240.8,136.5 L1241.5,136.1 L1242.0,135.3 L1242.4,134.1 L1243.1,133.8 L1243.4,134.3 L1243.7,135.1 L1244.2,136.0 L1244.6,137.0 L1244.8,137.5 L1245.3,138.5 L1245.7,139.4 L1245.9,139.9 L1246.4,141.0 L1246.7,141.6 L1247.0,142.2 L1247.4,141.5 L1247.8,140.8 L1248.3,140.2 L1248.8,139.4 L1249.1,138.5 L1249.4,137.5 L1249.8,136.7 L1250.2,135.8 L1250.3,136.3 L1250.7,137.6 L1251.0,138.8 L1251.1,139.2 L1251.4,140.3 L1251.6,141.2 L1251.9,142.0 L1252.0,142.7 L1252.2,143.5 L1252.6,144.7 L1253.2,144.0 L1253.6,143.1 L1254.3,142.7 L1254.7,141.8 L1255.3,141.1 L1255.8,140.3 L1256.4,139.9 L1256.9,139.0 L1257.4,138.2 L1257.6,137.0 L1258.2,136.8 L1258.5,135.8 L1258.8,135.1 L1259.0,133.7 L1259.3,132.9 L1259.6,132.0 L1259.9,131.0 L1260.3,130.3 L1260.6,129.4 L1261.3,128.9 L1261.9,128.2 L1262.3,127.1 L1263.0,126.7 L1263.5,125.9 L1264.2,125.5 L1264.8,124.8 L1265.2,125.5 L1265.6,126.0 L1266.1,126.9 L1266.6,128.0 L1267.0,128.5" fill="none" stroke="#8e5fbe" stroke-width="4.2" stroke-linejoin="round" stroke-linecap="butt"/>
<path d="M342.1,365.3 L345.6,361.9 L349.1,358.5 L352.6,355.0 L356.1,351.5 L359.6,348.0 L363.1,344.6 L366.6,341.1 L370.1,337.5 L373.6,334.0 L377.0,330.5 L380.5,326.9 L384.0,323.4 L387.5,319.8 L391.0,316.2 L394.5,312.7 L398.0,309.1 L401.5,305.5 L405.0,301.9 L408.5,298.2 L412.0,294.6 L415.5,291.0 L419.0,287.4 L422.5,283.7 L426.0,280.0 L429.5,276.4 L433.0,272.7 L436.5,269.0 L440.0,265.4 L443.5,261.7 L446.9,258.0 L450.4,254.3 L453.9,250.5 L457.4,246.8 L460.9,243.1 L464.4,239.4 L467.9,235.6 L471.4,231.9 L474.9,228.2 L478.4,224.4 L481.9,220.6 L485.4,216.9 L488.9,213.1 L492.4,209.3 L495.9,205.6 L499.4,201.8 L502.9,198.0 L506.4,194.2 L509.9,190.4 L513.4,186.6 L516.9,182.8 L520.3,178.9 L523.8,175.1 L527.3,171.3 L530.8,167.5 L534.3,163.6 L537.8,159.8 L541.3,156.0 L544.8,152.1 L548.3,148.3 L551.8,144.4" fill="none" stroke="#000" stroke-width="4.3" stroke-dasharray="15.4 7.7"/>
<line x1="989.8" y1="413" x2="1196.1" y2="138.5" stroke="#000" stroke-width="4.3" stroke-dasharray="15.4 7.7"/>
<rect x="57.75" y="107.55" width="578.25" height="587.25" fill="none" stroke="#000" stroke-width="3.2"/>
<rect x="705.25" y="107.55" width="578.4000000000001" height="587.25" fill="none" stroke="#000" stroke-width="3.2"/>
<text class="lab" x="0" y="0" font-size="43.1" transform="translate(6.2,135.9) scale(1.045,1)">A</text>
<text class="lab" x="0" y="0" font-size="43.1" transform="translate(651,135.9) scale(0.966,1)">B</text>
<defs><filter id="th" x="-10%" y="-10%" width="120%" height="120%"><feMorphology in="SourceGraphic" operator="erode" radius="0.9 1" result="e"/><feOffset in="e" dx="0.3" dy="-0.65" result="a"/><feOffset in="e" dx="-0.3" dy="0.65" result="b"/><feMerge><feMergeNode in="e"/><feMergeNode in="a"/><feMergeNode in="b"/></feMerge></filter></defs>
<text x="0" y="0" font-size="77.5" filter="url(#th)" style="font-family:'DejaVu Math TeX Gyre','DejaVu Serif','Liberation Serif',serif" transform="translate(78.6,196.0) scale(1.2,1)">Δ</text>
<text class="ser" x="0" y="0" font-size="55.5" stroke="#000" stroke-width="0.6" transform="translate(149,164.3) scale(1.06,1)">2</text>
<text x="0" y="0" font-size="77.5" filter="url(#th)" style="font-family:'DejaVu Math TeX Gyre','DejaVu Serif','Liberation Serif',serif" transform="translate(731.6,196.0) scale(1.2,1)">Δ</text>
<text class="ser" x="0" y="0" font-size="55.5" stroke="#000" stroke-width="0.6" transform="translate(802,164.3) scale(1.06,1)">2</text>
<text class="it" x="596.9" y="677.7" font-size="50">t</text>
<text class="it" x="1244.5" y="676.0" font-size="50">t</text>
<text x="260.5" y="238.9" font-size="40">~</text>
<text x="308.5" y="238.9" font-size="40"><tspan class="it">t</tspan></text>
<text x="331.5" y="238.9" font-size="40">/</text>
<text x="351" y="238.9" font-size="40">log</text>
<text x="419.5" y="238.9" font-size="40" class="it">t</text>
<text x="982.6" y="272.5" font-size="40">~</text>
<text x="1031" y="272.5" font-size="40" class="it">t</text>
<text x="1049" y="257.3" font-size="28">3/2</text>
</svg></body></html>
